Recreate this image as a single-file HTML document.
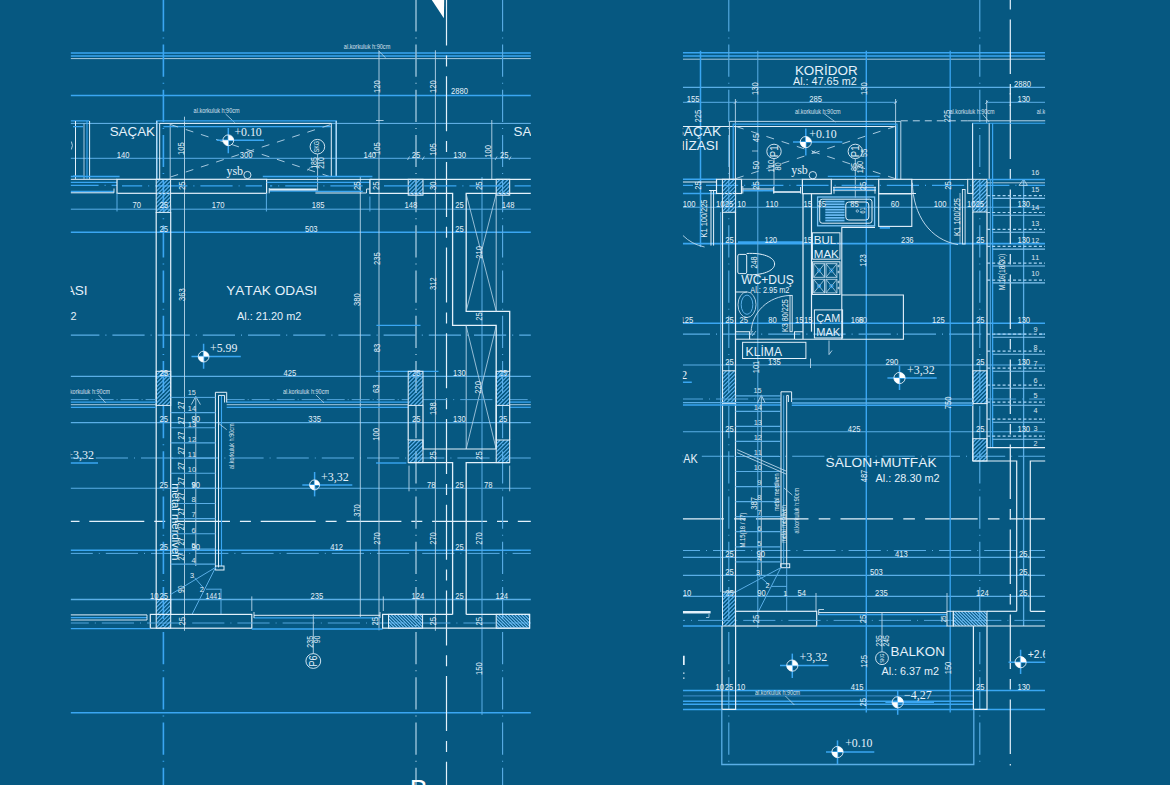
<!DOCTYPE html>
<html lang="tr"><head><meta charset="utf-8"><title>Kat Planı</title>
<style>
html,body{margin:0;padding:0;background:#065881;}
body{width:1170px;height:785px;overflow:hidden;}
svg{display:block}
text{font-kerning:none;}
.s{font-family:"Liberation Sans",Arial,sans-serif;}
.r{font-family:"Liberation Serif","Times New Roman",serif;}
</style></head><body>
<svg width="1170" height="785" viewBox="0 0 1170 785">
<rect width="1170" height="785" fill="#065881"/>
<defs>
<clipPath id="clipL"><rect x="70.6" y="0" width="460.4" height="785"/></clipPath>
<clipPath id="clipR"><rect x="682.8" y="0" width="362.4" height="785"/></clipPath>
</defs>
<g clip-path="url(#clipL)">
<line x1="70.6" y1="53.0" x2="530.8" y2="53.0" stroke="#3aa6f2" stroke-width="1.5"/>
<line x1="70.6" y1="55.9" x2="530.8" y2="55.9" stroke="#3aa6f2" stroke-width="1.5"/>
<line x1="70.6" y1="58.6" x2="530.8" y2="58.6" stroke="#b9d6ea" stroke-width="0.9"/>
<line x1="70.6" y1="95.4" x2="530.8" y2="95.4" stroke="#3aa6f2" stroke-width="1.5"/>
<line x1="70.6" y1="123.4" x2="530.8" y2="123.4" stroke="#6ab8ee" stroke-width="1"/>
<line x1="70.6" y1="158.3" x2="530.8" y2="158.3" stroke="#5aaee6" stroke-width="1"/>
<line x1="70.6" y1="209.2" x2="530.8" y2="209.2" stroke="#5aaee6" stroke-width="1"/>
<line x1="70.6" y1="232.3" x2="530.8" y2="232.3" stroke="#3aa6f2" stroke-width="1.4"/>
<line x1="70.6" y1="335.1" x2="530.8" y2="335.1" stroke="#5aaee6" stroke-width="1.2" stroke-dasharray="32.2 6 1 6" stroke-dashoffset="3.4"/>
<line x1="70.6" y1="376.4" x2="530.8" y2="376.4" stroke="#5aaee6" stroke-width="1.2"/>
<line x1="70.6" y1="422.6" x2="530.8" y2="422.6" stroke="#5aaee6" stroke-width="1.1"/>
<line x1="70.6" y1="458.0" x2="530.8" y2="458.0" stroke="#5aaee6" stroke-width="1.2" stroke-dasharray="32.2 6 1 6" stroke-dashoffset="20"/>
<line x1="70.6" y1="488.2" x2="530.8" y2="488.2" stroke="#5aaee6" stroke-width="1.1"/>
<line x1="70.6" y1="521.3" x2="530.8" y2="521.3" stroke="#e4f1fb" stroke-width="1.3" stroke-dasharray="55 9.9 11 9.8" stroke-dashoffset="67"/>
<line x1="70.6" y1="550.3" x2="530.8" y2="550.3" stroke="#3aa6f2" stroke-width="1.4"/>
<line x1="70.6" y1="553.4" x2="530.8" y2="553.4" stroke="#5aaee6" stroke-width="1" stroke-dasharray="32.2 6 1 6" stroke-dashoffset="10"/>
<line x1="70.6" y1="599.5" x2="530.8" y2="599.5" stroke="#5aaee6" stroke-width="1.3"/>
<line x1="70.6" y1="712.8" x2="530.8" y2="712.8" stroke="#3aa6f2" stroke-width="1.5"/>
</g>
<line x1="163.4" y1="0.0" x2="163.4" y2="785.0" stroke="#3aa6f2" stroke-width="1.6" stroke-dasharray="32.2 6 1 6" stroke-dashoffset="0.7"/>
<line x1="416.0" y1="0.0" x2="416.0" y2="785.0" stroke="#8ebad4" stroke-width="1.5" stroke-dasharray="32.2 6 1 6" stroke-dashoffset="0.7"/>
<line x1="502.6" y1="0.0" x2="502.6" y2="785.0" stroke="#5aaee6" stroke-width="1.1" stroke-dasharray="32.2 6 1 6" stroke-dashoffset="0.7"/>
<line x1="446.5" y1="0.0" x2="446.5" y2="785.0" stroke="#e4f1fb" stroke-width="1.2" stroke-dasharray="55 9.9 11 9.8" stroke-dashoffset="9.5"/>
<line x1="184.5" y1="116.7" x2="184.5" y2="630.8" stroke="#b9d6ea" stroke-width="0.9"/>
<line x1="360.3" y1="177.0" x2="360.3" y2="617.0" stroke="#b9d6ea" stroke-width="0.9"/>
<line x1="379.0" y1="50.8" x2="379.0" y2="630.3" stroke="#b9d6ea" stroke-width="0.9"/>
<line x1="435.4" y1="50.3" x2="435.4" y2="630.8" stroke="#b9d6ea" stroke-width="0.9"/>
<line x1="482.0" y1="177.0" x2="482.0" y2="714.9" stroke="#5aaee6" stroke-width="1"/>
<line x1="491.8" y1="120.0" x2="491.8" y2="179.5" stroke="#b9d6ea" stroke-width="0.9"/>
<polygon points="431.8,0 444.2,0 443.9,18.3" fill="#ffffff"/>
<g clip-path="url(#clipL)">
<text class="s" x="343.8" y="48.9" font-size="7.4" fill="#e4f1fb" textLength="46.5" lengthAdjust="spacingAndGlyphs" opacity="0.9">al.korkuluk h:90cm</text>
<line x1="378.5" y1="50.8" x2="385.6" y2="57.8" stroke="#b9d6ea" stroke-width="0.8"/>
<text class="s" x="193.6" y="113.0" font-size="7.4" fill="#e4f1fb" textLength="46" lengthAdjust="spacingAndGlyphs" opacity="0.9">al.korkuluk h:90cm</text>
<line x1="225.6" y1="114.0" x2="234.6" y2="122.5" stroke="#b9d6ea" stroke-width="0.8"/>
<line x1="376.0" y1="120.5" x2="383.6" y2="120.5" stroke="#b9d6ea" stroke-width="0.9"/>
<line x1="70.6" y1="120.9" x2="89.4" y2="120.9" stroke="#3aa6f2" stroke-width="1.4"/>
<line x1="75.5" y1="121.0" x2="75.5" y2="178.8" stroke="#e4f1fb" stroke-width="1"/>
<line x1="84.0" y1="123.4" x2="84.0" y2="178.8" stroke="#b9d6ea" stroke-width="0.9"/>
<line x1="87.0" y1="121.0" x2="87.0" y2="178.8" stroke="#3aa6f2" stroke-width="1.1"/>
<line x1="89.6" y1="121.0" x2="89.6" y2="178.8" stroke="#e4f1fb" stroke-width="1"/>
<line x1="73.0" y1="126.6" x2="83.0" y2="126.6" stroke="#3aa6f2" stroke-width="1.1"/>
<line x1="73.0" y1="176.0" x2="83.0" y2="176.0" stroke="#3aa6f2" stroke-width="1.1"/>
<path d="M71.3 141.5Q73.6 145.5 71.3 149.5" fill="none" stroke="#b9d6ea" stroke-width="0.9"/>
<line x1="70.6" y1="176.5" x2="119.6" y2="176.5" stroke="#3aa6f2" stroke-width="1.4"/>
<line x1="70.6" y1="179.3" x2="117.0" y2="179.3" stroke="#e4f1fb" stroke-width="1"/>
<line x1="70.6" y1="182.3" x2="117.0" y2="182.3" stroke="#3aa6f2" stroke-width="1.3"/>
<line x1="70.6" y1="185.3" x2="117.0" y2="185.3" stroke="#3aa6f2" stroke-width="1.3" stroke-dasharray="28 6 1 6" stroke-dashoffset="0"/>
<line x1="70.6" y1="191.4" x2="114.0" y2="191.4" stroke="#3aa6f2" stroke-width="1.5"/>
<line x1="70.6" y1="192.8" x2="114.0" y2="192.8" stroke="#e4f1fb" stroke-width="1"/>
<line x1="114.0" y1="188.5" x2="114.0" y2="192.8" stroke="#e4f1fb" stroke-width="0.9"/>
<path d="M156.8 179.3V120.9H336.2V177" fill="none" stroke="#3aa6f2" stroke-width="1.3"/>
<path d="M156.8 179.3V120.9" fill="none" stroke="#e4f1fb" stroke-width="1"/>
<path d="M159.7 179.3V123.4H331.3V177" fill="none" stroke="#e4f1fb" stroke-width="1"/>
<path d="M336.2 120.9V177" fill="none" stroke="#e4f1fb" stroke-width="1"/>
<line x1="170.2" y1="123.4" x2="170.2" y2="179.3" stroke="#b9d6ea" stroke-width="0.9"/>
<line x1="163.4" y1="126.6" x2="331.0" y2="126.6" stroke="#3aa6f2" stroke-width="1.2"/>
<line x1="170.5" y1="124.5" x2="331.0" y2="177.0" stroke="#b9d6ea" stroke-width="0.9" stroke-dasharray="8 8" stroke-dashoffset="0"/>
<line x1="170.5" y1="177.0" x2="331.0" y2="124.5" stroke="#b9d6ea" stroke-width="0.9" stroke-dasharray="8 8" stroke-dashoffset="0"/>
<text class="s" transform="translate(109.7,136.0) scale(0.99,1)" font-size="13.5" fill="#e4f1fb" text-anchor="start">SAÇAK</text>
<text class="s" transform="translate(513.6,136.0) scale(0.99,1)" font-size="13.5" fill="#e4f1fb" text-anchor="start">SAÇAK</text>
<line x1="216.7" y1="140.3" x2="264.0" y2="140.3" stroke="#3aa6f2" stroke-width="1.5"/>
<line x1="228.3" y1="128.0" x2="228.3" y2="153.2" stroke="#3aa6f2" stroke-width="1.5"/>
<circle cx="228.3" cy="140.3" r="5.4" fill="none" stroke="#e4f1fb" stroke-width="0.9"/>
<path d="M228.3 140.3L228.3 134.9A5.4 5.4 0 0 1 233.7 140.3Z M228.3 140.3L228.3 145.7A5.4 5.4 0 0 1 222.9 140.3Z" fill="#ffffff"/>
<text class="r" transform="translate(234.4,136.0) scale(1.0,1)" font-size="11.8" fill="#e4f1fb" text-anchor="start">+0.10</text>
<text class="r" transform="translate(226.4,175.0) scale(1.0,1)" font-size="12" fill="#e4f1fb" text-anchor="start">ysb</text>
<circle cx="247.4" cy="175.0" r="3.6" fill="none" stroke="#e4f1fb" stroke-width="0.9"/>
<circle cx="317.4" cy="146.7" r="7.3" fill="none" stroke="#e4f1fb" stroke-width="0.9"/>
<line x1="317.6" y1="154.0" x2="317.6" y2="190.8" stroke="#b9d6ea" stroke-width="0.9"/>
<text class="s" transform="translate(319.3,146.7) rotate(-90) scale(0.85,1)" font-size="6.3" fill="#e4f1fb" text-anchor="middle">SKG</text>
<text class="s" transform="translate(317.2,163.0) rotate(-90) scale(0.78,1)" font-size="9" fill="#e4f1fb" text-anchor="middle">185</text>
<text class="s" transform="translate(323.8,163.0) rotate(-90) scale(0.78,1)" font-size="9" fill="#e4f1fb" text-anchor="middle">210</text>
<line x1="307.5" y1="170.5" x2="310.5" y2="167.0" stroke="#b9d6ea" stroke-width="0.8"/>
<rect x="117.0" y="179.3" width="149.6" height="14.0" rx="0" fill="none" stroke="#e4f1fb" stroke-width="1.2"/>
<line x1="122.0" y1="185.8" x2="262.0" y2="185.8" stroke="#3aa6f2" stroke-width="1.3" stroke-dasharray="32.2 6 1 6" stroke-dashoffset="12"/>
<clipPath id="h77"><rect x="156.2" y="179.3" width="14.4" height="33.1"/></clipPath>
<g clip-path="url(#h77)">
<path d="M123.1 212.4L156.2 179.3M127.1 212.4L160.2 179.3M131.1 212.4L164.2 179.3M135.1 212.4L168.2 179.3M139.1 212.4L172.2 179.3M143.1 212.4L176.2 179.3M147.1 212.4L180.2 179.3M151.1 212.4L184.2 179.3M155.1 212.4L188.2 179.3M159.1 212.4L192.2 179.3M163.1 212.4L196.2 179.3M167.1 212.4L200.2 179.3M171.1 212.4L204.2 179.3M175.1 212.4L208.2 179.3M179.1 212.4L212.2 179.3M183.1 212.4L216.2 179.3M187.1 212.4L220.2 179.3M191.1 212.4L224.2 179.3M195.1 212.4L228.2 179.3M199.1 212.4L232.2 179.3M203.1 212.4L236.2 179.3" stroke="#5cb4f2" stroke-width="1.15" fill="none"/>
</g>
<rect x="156.2" y="179.3" width="14.4" height="33.1" rx="0" fill="none" stroke="#e4f1fb" stroke-width="1"/>
<line x1="117.0" y1="193.3" x2="117.0" y2="211.5" stroke="#5aaee6" stroke-width="1"/>
<line x1="266.4" y1="193.3" x2="266.4" y2="211.5" stroke="#5aaee6" stroke-width="1"/>
<line x1="369.9" y1="196.5" x2="369.9" y2="211.5" stroke="#5aaee6" stroke-width="1"/>
<line x1="262.8" y1="176.5" x2="372.4" y2="176.5" stroke="#3aa6f2" stroke-width="1.3"/>
<line x1="266.6" y1="179.4" x2="372.0" y2="179.4" stroke="#e4f1fb" stroke-width="1"/>
<line x1="266.6" y1="182.4" x2="370.0" y2="182.4" stroke="#3aa6f2" stroke-width="1.3"/>
<line x1="270.0" y1="185.8" x2="368.0" y2="185.8" stroke="#3aa6f2" stroke-width="1.2" stroke-dasharray="32.2 6 1 6" stroke-dashoffset="30"/>
<line x1="269.2" y1="189.7" x2="316.7" y2="189.7" stroke="#e4f1fb" stroke-width="2.2"/>
<line x1="269.2" y1="191.2" x2="316.7" y2="191.2" stroke="#3aa6f2" stroke-width="1.0"/>
<line x1="315.4" y1="191.4" x2="362.8" y2="191.4" stroke="#3aa6f2" stroke-width="1.2"/>
<line x1="315.4" y1="193.0" x2="362.8" y2="193.0" stroke="#e4f1fb" stroke-width="1.2"/>
<line x1="269.2" y1="188.0" x2="269.2" y2="193.3" stroke="#e4f1fb" stroke-width="0.9"/>
<path d="M362.8 193H366.5V189H369.7" fill="none" stroke="#e4f1fb" stroke-width="0.9"/>
<path d="M369.9 179.3V193.3H452.6V325.4H496.2V449" fill="none" stroke="#e4f1fb" stroke-width="1.3"/>
<line x1="369.7" y1="179.3" x2="530.8" y2="179.3" stroke="#e4f1fb" stroke-width="1.3"/>
<path d="M530.8 193.3H466.2V311.3H509.7V371.3" fill="none" stroke="#e4f1fb" stroke-width="1.3"/>
<clipPath id="h98"><rect x="408.2" y="179.3" width="14.8" height="15.9"/></clipPath>
<g clip-path="url(#h98)">
<path d="M392.3 195.2L408.2 179.3M396.3 195.2L412.2 179.3M400.3 195.2L416.2 179.3M404.3 195.2L420.2 179.3M408.3 195.2L424.2 179.3M412.3 195.2L428.2 179.3M416.3 195.2L432.2 179.3M420.3 195.2L436.2 179.3M424.3 195.2L440.2 179.3M428.3 195.2L444.2 179.3M432.3 195.2L448.2 179.3M436.3 195.2L452.2 179.3" stroke="#5cb4f2" stroke-width="1.15" fill="none"/>
</g>
<rect x="408.2" y="179.3" width="14.8" height="15.9" rx="0" fill="none" stroke="#e4f1fb" stroke-width="1"/>
<clipPath id="h103"><rect x="496.2" y="179.3" width="13.5" height="15.9"/></clipPath>
<g clip-path="url(#h103)">
<path d="M480.3 195.2L496.2 179.3M484.3 195.2L500.2 179.3M488.3 195.2L504.2 179.3M492.3 195.2L508.2 179.3M496.3 195.2L512.2 179.3M500.3 195.2L516.2 179.3M504.3 195.2L520.2 179.3M508.3 195.2L524.2 179.3M512.3 195.2L528.2 179.3M516.3 195.2L532.2 179.3M520.3 195.2L536.2 179.3M524.3 195.2L540.2 179.3" stroke="#5cb4f2" stroke-width="1.15" fill="none"/>
</g>
<rect x="496.2" y="179.3" width="13.5" height="15.9" rx="0" fill="none" stroke="#e4f1fb" stroke-width="1"/>
<line x1="384.0" y1="185.8" x2="530.8" y2="185.8" stroke="#3aa6f2" stroke-width="1.2" stroke-dasharray="32.2 6 1 6" stroke-dashoffset="5"/>
<line x1="496.2" y1="193.3" x2="496.2" y2="311.3" stroke="#b9d6ea" stroke-width="0.9"/>
<line x1="466.2" y1="194.0" x2="496.2" y2="311.0" stroke="#b9d6ea" stroke-width="0.8"/>
<line x1="496.2" y1="194.0" x2="466.2" y2="311.0" stroke="#b9d6ea" stroke-width="0.8"/>
<line x1="466.2" y1="325.4" x2="466.2" y2="449.0" stroke="#b9d6ea" stroke-width="0.9"/>
<line x1="466.2" y1="326.0" x2="496.2" y2="449.0" stroke="#b9d6ea" stroke-width="0.8"/>
<line x1="496.2" y1="326.0" x2="466.2" y2="449.0" stroke="#b9d6ea" stroke-width="0.8"/>
<line x1="156.2" y1="212.0" x2="156.2" y2="600.0" stroke="#e4f1fb" stroke-width="1.2"/>
<line x1="170.7" y1="212.0" x2="170.7" y2="614.4" stroke="#e4f1fb" stroke-width="1.2"/>
<clipPath id="h117"><rect x="156.2" y="371.3" width="14.5" height="34.1"/></clipPath>
<g clip-path="url(#h117)">
<path d="M122.1 405.4L156.2 371.3M126.1 405.4L160.2 371.3M130.1 405.4L164.2 371.3M134.1 405.4L168.2 371.3M138.1 405.4L172.2 371.3M142.1 405.4L176.2 371.3M146.1 405.4L180.2 371.3M150.1 405.4L184.2 371.3M154.1 405.4L188.2 371.3M158.1 405.4L192.2 371.3M162.1 405.4L196.2 371.3M166.1 405.4L200.2 371.3M170.1 405.4L204.2 371.3M174.1 405.4L208.2 371.3M178.1 405.4L212.2 371.3M182.1 405.4L216.2 371.3M186.1 405.4L220.2 371.3M190.1 405.4L224.2 371.3M194.1 405.4L228.2 371.3M198.1 405.4L232.2 371.3M202.1 405.4L236.2 371.3" stroke="#5cb4f2" stroke-width="1.15" fill="none"/>
</g>
<rect x="156.2" y="371.3" width="14.5" height="34.1" rx="0" fill="none" stroke="#e4f1fb" stroke-width="1"/>
<clipPath id="h122"><rect x="156.2" y="599.5" width="14.5" height="28.7"/></clipPath>
<g clip-path="url(#h122)">
<path d="M127.5 628.2L156.2 599.5M131.5 628.2L160.2 599.5M135.5 628.2L164.2 599.5M139.5 628.2L168.2 599.5M143.5 628.2L172.2 599.5M147.5 628.2L176.2 599.5M151.5 628.2L180.2 599.5M155.5 628.2L184.2 599.5M159.5 628.2L188.2 599.5M163.5 628.2L192.2 599.5M167.5 628.2L196.2 599.5M171.5 628.2L200.2 599.5M175.5 628.2L204.2 599.5M179.5 628.2L208.2 599.5M183.5 628.2L212.2 599.5M187.5 628.2L216.2 599.5M191.5 628.2L220.2 599.5M195.5 628.2L224.2 599.5" stroke="#5cb4f2" stroke-width="1.15" fill="none"/>
</g>
<rect x="156.2" y="599.5" width="14.5" height="28.7" rx="0" fill="none" stroke="#e4f1fb" stroke-width="1"/>
<text class="s" transform="translate(116.7,158.2) scale(0.77,1)" font-size="9.9" fill="#e4f1fb" text-anchor="start">140</text>
<text class="s" transform="translate(239.7,158.2) scale(0.77,1)" font-size="9.9" fill="#e4f1fb" text-anchor="start">300</text>
<text class="s" transform="translate(363.4,158.2) scale(0.77,1)" font-size="9.9" fill="#e4f1fb" text-anchor="start">140</text>
<text class="s" transform="translate(411.8,158.2) scale(0.77,1)" font-size="9.9" fill="#e4f1fb" text-anchor="start">25</text>
<text class="s" transform="translate(453.3,158.2) scale(0.77,1)" font-size="9.9" fill="#e4f1fb" text-anchor="start">130</text>
<text class="s" transform="translate(499.9,158.2) scale(0.77,1)" font-size="9.9" fill="#e4f1fb" text-anchor="start">25</text>
<line x1="407.5" y1="160.0" x2="409.5" y2="156.5" stroke="#b9d6ea" stroke-width="0.8"/>
<line x1="422.3" y1="160.0" x2="424.3" y2="156.5" stroke="#b9d6ea" stroke-width="0.8"/>
<line x1="495.0" y1="160.0" x2="497.0" y2="156.5" stroke="#b9d6ea" stroke-width="0.8"/>
<line x1="509.0" y1="160.0" x2="511.0" y2="156.5" stroke="#b9d6ea" stroke-width="0.8"/>
<text class="s" transform="translate(184.4,148.7) rotate(-90) scale(0.77,1)" font-size="9.9" fill="#e4f1fb" text-anchor="middle">105</text>
<text class="s" transform="translate(379.6,148.7) rotate(-90) scale(0.77,1)" font-size="9.9" fill="#e4f1fb" text-anchor="middle">105</text>
<text class="s" transform="translate(435.9,149.5) rotate(-90) scale(0.77,1)" font-size="9.9" fill="#e4f1fb" text-anchor="middle">105</text>
<text class="s" transform="translate(491.2,151.3) rotate(-90) scale(0.77,1)" font-size="9.9" fill="#e4f1fb" text-anchor="middle">100</text>
<text class="s" transform="translate(379.6,86.7) rotate(-90) scale(0.77,1)" font-size="9.9" fill="#e4f1fb" text-anchor="middle">120</text>
<text class="s" transform="translate(435.9,86.7) rotate(-90) scale(0.77,1)" font-size="9.9" fill="#e4f1fb" text-anchor="middle">120</text>
<text class="s" transform="translate(451.0,94.3) scale(0.77,1)" font-size="9.9" fill="#e4f1fb" text-anchor="start">2880</text>
<text class="s" transform="translate(132.6,208.4) scale(0.77,1)" font-size="9.9" fill="#e4f1fb" text-anchor="start">70</text>
<text class="s" transform="translate(159.6,208.4) scale(0.77,1)" font-size="9.9" fill="#e4f1fb" text-anchor="start">25</text>
<text class="s" transform="translate(211.8,208.4) scale(0.77,1)" font-size="9.9" fill="#e4f1fb" text-anchor="start">170</text>
<text class="s" transform="translate(311.8,208.4) scale(0.77,1)" font-size="9.9" fill="#e4f1fb" text-anchor="start">185</text>
<text class="s" transform="translate(404.6,208.4) scale(0.77,1)" font-size="9.9" fill="#e4f1fb" text-anchor="start">148</text>
<text class="s" transform="translate(455.2,208.4) scale(0.77,1)" font-size="9.9" fill="#e4f1fb" text-anchor="start">25</text>
<text class="s" transform="translate(501.8,208.4) scale(0.77,1)" font-size="9.9" fill="#e4f1fb" text-anchor="start">148</text>
<text class="s" transform="translate(159.6,231.6) scale(0.77,1)" font-size="9.9" fill="#e4f1fb" text-anchor="start">25</text>
<text class="s" transform="translate(304.9,231.6) scale(0.77,1)" font-size="9.9" fill="#e4f1fb" text-anchor="start">503</text>
<text class="s" transform="translate(455.2,231.6) scale(0.77,1)" font-size="9.9" fill="#e4f1fb" text-anchor="start">25</text>
<line x1="156.4" y1="205.5" x2="156.4" y2="211.8" stroke="#b9d6ea" stroke-width="0.9"/>
<line x1="170.6" y1="205.5" x2="170.6" y2="211.8" stroke="#b9d6ea" stroke-width="0.9"/>
<text class="s" transform="translate(184.9,185.8) rotate(-90) scale(0.77,1)" font-size="9.9" fill="#e4f1fb" text-anchor="middle">25</text>
<text class="s" transform="translate(360.0,185.8) rotate(-90) scale(0.77,1)" font-size="9.9" fill="#e4f1fb" text-anchor="middle">25</text>
<text class="s" transform="translate(379.2,185.8) rotate(-90) scale(0.77,1)" font-size="9.9" fill="#e4f1fb" text-anchor="middle">25</text>
<text class="s" transform="translate(435.6,185.8) rotate(-90) scale(0.77,1)" font-size="9.9" fill="#e4f1fb" text-anchor="middle">30</text>
<text class="s" transform="translate(482.3,185.8) rotate(-90) scale(0.77,1)" font-size="9.9" fill="#e4f1fb" text-anchor="middle">25</text>
<text class="s" transform="translate(184.9,294.6) rotate(-90) scale(0.77,1)" font-size="9.9" fill="#e4f1fb" text-anchor="middle">363</text>
<text class="s" transform="translate(360.0,299.7) rotate(-90) scale(0.77,1)" font-size="9.9" fill="#e4f1fb" text-anchor="middle">380</text>
<text class="s" transform="translate(379.6,258.7) rotate(-90) scale(0.77,1)" font-size="9.9" fill="#e4f1fb" text-anchor="middle">235</text>
<text class="s" transform="translate(435.6,283.6) rotate(-90) scale(0.77,1)" font-size="9.9" fill="#e4f1fb" text-anchor="middle">312</text>
<text class="s" transform="translate(482.3,252.3) rotate(-90) scale(0.77,1)" font-size="9.9" fill="#e4f1fb" text-anchor="middle">210</text>
<text class="s" transform="translate(482.3,316.4) rotate(-90) scale(0.77,1)" font-size="9.9" fill="#e4f1fb" text-anchor="middle">25</text>
<text class="s" transform="translate(379.6,348.0) rotate(-90) scale(0.77,1)" font-size="9.9" fill="#e4f1fb" text-anchor="middle">83</text>
<line x1="376.4" y1="325.4" x2="420.5" y2="325.4" stroke="#3aa6f2" stroke-width="1.4"/>
<text class="s" transform="translate(226.2,295.4) scale(1.011,1)" font-size="13.5" fill="#e4f1fb" text-anchor="start">YATAK ODASI</text>
<text class="s" transform="translate(237.0,319.5) scale(1.004,1)" font-size="10.9" fill="#e4f1fb" text-anchor="start">Al.: 21.20 m2</text>
<text class="s" transform="translate(-3.3,295.4) scale(1.011,1)" font-size="13.5" fill="#e4f1fb" text-anchor="start">YATAK ODASI</text>
<text class="s" transform="translate(12.2,319.5) scale(1.004,1)" font-size="10.9" fill="#e4f1fb" text-anchor="start">Al.: 21.20 m2</text>
<line x1="191.5" y1="356.6" x2="240.8" y2="356.6" stroke="#3aa6f2" stroke-width="1.5"/>
<line x1="203.6" y1="343.8" x2="203.6" y2="368.7" stroke="#3aa6f2" stroke-width="1.5"/>
<circle cx="203.6" cy="356.6" r="5.4" fill="none" stroke="#e4f1fb" stroke-width="0.9"/>
<path d="M203.6 356.6L203.6 351.2A5.4 5.4 0 0 1 209.0 356.6Z M203.6 356.6L203.6 362.0A5.4 5.4 0 0 1 198.2 356.6Z" fill="#ffffff"/>
<text class="r" transform="translate(210.0,352.3) scale(1.0,1)" font-size="11.8" fill="#e4f1fb" text-anchor="start">+5.99</text>
<text class="s" transform="translate(159.6,376.0) scale(0.77,1)" font-size="9.9" fill="#e4f1fb" text-anchor="start">25</text>
<text class="s" transform="translate(283.6,376.0) scale(0.77,1)" font-size="9.9" fill="#e4f1fb" text-anchor="start">425</text>
<text class="s" transform="translate(412.0,376.0) scale(0.77,1)" font-size="9.9" fill="#e4f1fb" text-anchor="start">25</text>
<text class="s" transform="translate(453.0,376.0) scale(0.77,1)" font-size="9.9" fill="#e4f1fb" text-anchor="start">130</text>
<text class="s" transform="translate(498.7,376.0) scale(0.77,1)" font-size="9.9" fill="#e4f1fb" text-anchor="start">25</text>
<line x1="376.0" y1="371.3" x2="438.5" y2="371.3" stroke="#3aa6f2" stroke-width="1.3"/>
<line x1="70.6" y1="399.6" x2="156.2" y2="399.6" stroke="#5aaee6" stroke-width="0.9" stroke-dasharray="18 3 1 3"/>
<line x1="70.6" y1="402.1" x2="156.2" y2="402.1" stroke="#3aa6f2" stroke-width="1.3"/>
<line x1="70.6" y1="404.7" x2="156.2" y2="404.7" stroke="#b9d6ea" stroke-width="0.9"/>
<line x1="70.6" y1="407.3" x2="156.2" y2="407.3" stroke="#3aa6f2" stroke-width="1.2"/>
<line x1="226.7" y1="399.6" x2="408.2" y2="399.6" stroke="#5aaee6" stroke-width="0.9" stroke-dasharray="18 3 1 3"/>
<line x1="226.7" y1="402.1" x2="408.2" y2="402.1" stroke="#3aa6f2" stroke-width="1.3"/>
<line x1="226.7" y1="404.7" x2="408.2" y2="404.7" stroke="#b9d6ea" stroke-width="0.9"/>
<line x1="226.7" y1="407.3" x2="408.2" y2="407.3" stroke="#3aa6f2" stroke-width="1.2"/>
<line x1="509.7" y1="399.6" x2="530.8" y2="399.6" stroke="#5aaee6" stroke-width="0.9" stroke-dasharray="18 3 1 3"/>
<line x1="509.7" y1="402.1" x2="530.8" y2="402.1" stroke="#3aa6f2" stroke-width="1.3"/>
<line x1="509.7" y1="404.7" x2="530.8" y2="404.7" stroke="#b9d6ea" stroke-width="0.9"/>
<line x1="509.7" y1="407.3" x2="530.8" y2="407.3" stroke="#3aa6f2" stroke-width="1.2"/>
<line x1="423.0" y1="399.6" x2="496.2" y2="399.6" stroke="#5aaee6" stroke-width="0.9" stroke-dasharray="32.2 6 1 6" stroke-dashoffset="8"/>
<text class="s" x="64.0" y="394.2" font-size="7.4" fill="#e4f1fb" textLength="46" lengthAdjust="spacingAndGlyphs" opacity="0.9">al.korkuluk h:90cm</text>
<line x1="98.5" y1="395.0" x2="105.6" y2="402.8" stroke="#b9d6ea" stroke-width="0.8"/>
<text class="s" x="283.0" y="394.2" font-size="7.4" fill="#e4f1fb" textLength="46" lengthAdjust="spacingAndGlyphs" opacity="0.9">al.korkuluk h:90cm</text>
<line x1="316.0" y1="395.0" x2="324.0" y2="402.8" stroke="#b9d6ea" stroke-width="0.8"/>
<line x1="195.8" y1="397.0" x2="195.8" y2="566.0" stroke="#b9d6ea" stroke-width="0.9"/>
<path d="M191.3 404.6L195.8 396.4L200.4 404.6" fill="none" stroke="#b9d6ea" stroke-width="0.9"/>
<path d="M215.4 567.4V392.3H226.7V402.5" fill="none" stroke="#e4f1fb" stroke-width="1"/>
<path d="M218.5 567.4V395.4H224.6V402.5" fill="none" stroke="#e4f1fb" stroke-width="1"/>
<line x1="221.5" y1="396.0" x2="221.5" y2="566.0" stroke="#3aa6f2" stroke-width="1.1"/>
<line x1="170.7" y1="397.4" x2="215.4" y2="397.4" stroke="#5aaee6" stroke-width="1"/>
<line x1="170.7" y1="412.6" x2="215.4" y2="412.6" stroke="#5aaee6" stroke-width="1.1"/>
<line x1="170.7" y1="427.8" x2="215.4" y2="427.8" stroke="#5aaee6" stroke-width="1.1"/>
<line x1="170.7" y1="442.9" x2="215.4" y2="442.9" stroke="#5aaee6" stroke-width="1.1"/>
<line x1="170.7" y1="458.1" x2="215.4" y2="458.1" stroke="#5aaee6" stroke-width="1.1"/>
<line x1="170.7" y1="473.2" x2="215.4" y2="473.2" stroke="#5aaee6" stroke-width="1.1"/>
<line x1="170.7" y1="488.4" x2="215.4" y2="488.4" stroke="#5aaee6" stroke-width="1.1"/>
<line x1="170.7" y1="503.5" x2="215.4" y2="503.5" stroke="#5aaee6" stroke-width="1.1"/>
<line x1="170.7" y1="518.6" x2="215.4" y2="518.6" stroke="#5aaee6" stroke-width="1.1"/>
<line x1="170.7" y1="533.8" x2="215.4" y2="533.8" stroke="#5aaee6" stroke-width="1.1"/>
<line x1="170.7" y1="549.0" x2="215.4" y2="549.0" stroke="#5aaee6" stroke-width="1.1"/>
<line x1="170.7" y1="564.1" x2="215.4" y2="564.1" stroke="#5aaee6" stroke-width="1.1"/>
<text class="s" transform="translate(187.7,394.9) scale(0.92,1)" font-size="8" fill="#e4f1fb" text-anchor="start" opacity="0.9">15</text>
<text class="s" transform="translate(187.8,411.4) scale(0.92,1)" font-size="8" fill="#e4f1fb" text-anchor="start" opacity="0.9">14</text>
<text class="s" transform="translate(187.8,426.6) scale(0.92,1)" font-size="8" fill="#e4f1fb" text-anchor="start" opacity="0.9">13</text>
<text class="s" transform="translate(187.8,441.7) scale(0.92,1)" font-size="8" fill="#e4f1fb" text-anchor="start" opacity="0.9">12</text>
<text class="s" transform="translate(187.8,456.9) scale(0.92,1)" font-size="8" fill="#e4f1fb" text-anchor="start" opacity="0.9">11</text>
<text class="s" transform="translate(187.8,472.0) scale(0.92,1)" font-size="8" fill="#e4f1fb" text-anchor="start" opacity="0.9">10</text>
<text class="s" transform="translate(191.6,487.2) scale(0.92,1)" font-size="8" fill="#e4f1fb" text-anchor="start" opacity="0.9">9</text>
<text class="s" transform="translate(191.6,502.3) scale(0.92,1)" font-size="8" fill="#e4f1fb" text-anchor="start" opacity="0.9">8</text>
<text class="s" transform="translate(191.6,517.4) scale(0.92,1)" font-size="8" fill="#e4f1fb" text-anchor="start" opacity="0.9">7</text>
<text class="s" transform="translate(191.6,532.6) scale(0.92,1)" font-size="8" fill="#e4f1fb" text-anchor="start" opacity="0.9">6</text>
<text class="s" transform="translate(191.6,547.8) scale(0.92,1)" font-size="8" fill="#e4f1fb" text-anchor="start" opacity="0.9">5</text>
<text class="s" transform="translate(191.6,562.9) scale(0.92,1)" font-size="8" fill="#e4f1fb" text-anchor="start" opacity="0.9">4</text>
<text class="s" transform="translate(183.5,405.3) rotate(-90) scale(0.8,1)" font-size="8.5" fill="#e4f1fb" text-anchor="middle">27</text>
<text class="s" transform="translate(183.5,420.4) rotate(-90) scale(0.8,1)" font-size="8.5" fill="#e4f1fb" text-anchor="middle">27</text>
<text class="s" transform="translate(183.5,435.6) rotate(-90) scale(0.8,1)" font-size="8.5" fill="#e4f1fb" text-anchor="middle">27</text>
<text class="s" transform="translate(183.5,450.8) rotate(-90) scale(0.8,1)" font-size="8.5" fill="#e4f1fb" text-anchor="middle">27</text>
<text class="s" transform="translate(183.5,465.9) rotate(-90) scale(0.8,1)" font-size="8.5" fill="#e4f1fb" text-anchor="middle">27</text>
<text class="s" transform="translate(183.5,481.1) rotate(-90) scale(0.8,1)" font-size="8.5" fill="#e4f1fb" text-anchor="middle">27</text>
<text class="s" transform="translate(183.5,496.2) rotate(-90) scale(0.8,1)" font-size="8.5" fill="#e4f1fb" text-anchor="middle">27</text>
<text class="s" transform="translate(183.5,511.4) rotate(-90) scale(0.8,1)" font-size="8.5" fill="#e4f1fb" text-anchor="middle">27</text>
<text class="s" transform="translate(183.5,526.5) rotate(-90) scale(0.8,1)" font-size="8.5" fill="#e4f1fb" text-anchor="middle">27</text>
<text class="s" transform="translate(183.5,541.6) rotate(-90) scale(0.8,1)" font-size="8.5" fill="#e4f1fb" text-anchor="middle">27</text>
<text class="s" transform="translate(183.5,556.8) rotate(-90) scale(0.8,1)" font-size="8.5" fill="#e4f1fb" text-anchor="middle">27</text>
<text class="s" transform="translate(171.7,521.8) rotate(90) scale(1.0,1)" font-size="11.3" fill="#e4f1fb" text-anchor="middle">metal merdiven</text>
<rect x="215.6" y="566.0" width="8.4" height="4.0" rx="0" fill="none" stroke="#e4f1fb" stroke-width="1"/>
<line x1="215.6" y1="567.4" x2="170.7" y2="594.4" stroke="#5aaee6" stroke-width="1"/>
<line x1="215.6" y1="567.4" x2="192.0" y2="614.4" stroke="#5aaee6" stroke-width="1"/>
<line x1="194.6" y1="577.7" x2="203.6" y2="588.0" stroke="#5aaee6" stroke-width="1"/>
<line x1="206.0" y1="589.2" x2="221.5" y2="589.2" stroke="#5aaee6" stroke-width="1"/>
<line x1="221.0" y1="589.2" x2="221.0" y2="614.4" stroke="#5aaee6" stroke-width="1"/>
<text class="s" transform="translate(190.0,577.7) scale(0.92,1)" font-size="8" fill="#e4f1fb" text-anchor="start">3</text>
<text class="s" transform="translate(199.7,591.8) scale(0.92,1)" font-size="8" fill="#e4f1fb" text-anchor="start">2</text>
<text class="s" transform="translate(205.6,599.3) scale(0.8,1)" font-size="8.5" fill="#e4f1fb" text-anchor="start">144</text>
<text class="s" transform="translate(217.6,599.3) scale(0.8,1)" font-size="8.5" fill="#e4f1fb" text-anchor="start">1</text>
<text class="s" transform="translate(183.5,589.2) rotate(-90) scale(0.8,1)" font-size="8.5" fill="#e4f1fb" text-anchor="middle">90</text>
<text class="s" transform="translate(159.6,422.3) scale(0.77,1)" font-size="9.9" fill="#e4f1fb" text-anchor="start">25</text>
<text class="s" transform="translate(191.5,422.3) scale(0.77,1)" font-size="9.9" fill="#e4f1fb" text-anchor="start">90</text>
<text class="s" transform="translate(308.2,422.3) scale(0.77,1)" font-size="9.9" fill="#e4f1fb" text-anchor="start">335</text>
<text class="s" transform="translate(412.0,422.3) scale(0.77,1)" font-size="9.9" fill="#e4f1fb" text-anchor="start">25</text>
<text class="s" transform="translate(453.0,422.3) scale(0.77,1)" font-size="9.9" fill="#e4f1fb" text-anchor="start">130</text>
<text class="s" transform="translate(498.7,422.3) scale(0.77,1)" font-size="9.9" fill="#e4f1fb" text-anchor="start">25</text>
<text class="s" transform="translate(159.6,488.0) scale(0.77,1)" font-size="9.9" fill="#e4f1fb" text-anchor="start">25</text>
<text class="s" transform="translate(191.5,488.0) scale(0.77,1)" font-size="9.9" fill="#e4f1fb" text-anchor="start">90</text>
<text class="s" transform="translate(427.0,488.0) scale(0.77,1)" font-size="9.9" fill="#e4f1fb" text-anchor="start">78</text>
<text class="s" transform="translate(455.2,488.0) scale(0.77,1)" font-size="9.9" fill="#e4f1fb" text-anchor="start">25</text>
<text class="s" transform="translate(484.0,488.0) scale(0.77,1)" font-size="9.9" fill="#e4f1fb" text-anchor="start">78</text>
<line x1="409.0" y1="465.6" x2="409.0" y2="491.3" stroke="#b9d6ea" stroke-width="0.9"/>
<line x1="509.7" y1="465.6" x2="509.7" y2="491.3" stroke="#b9d6ea" stroke-width="0.9"/>
<line x1="217.7" y1="422.6" x2="226.7" y2="429.7" stroke="#b9d6ea" stroke-width="0.8"/>
<text class="s" transform="translate(233.5,469.0) rotate(-90)" font-size="7.4" fill="#e4f1fb" textLength="45.5" lengthAdjust="spacingAndGlyphs" text-anchor="start" opacity="0.9">al.korkuluk h:90cm</text>
<text class="r" transform="translate(66.2,459.2) scale(1.0,1)" font-size="12" fill="#e4f1fb" text-anchor="start">+3,32</text>
<line x1="70.6" y1="463.0" x2="98.0" y2="463.0" stroke="#3aa6f2" stroke-width="1.4"/>
<line x1="302.3" y1="484.9" x2="352.3" y2="484.9" stroke="#3aa6f2" stroke-width="1.5"/>
<line x1="314.6" y1="472.0" x2="314.6" y2="496.4" stroke="#3aa6f2" stroke-width="1.5"/>
<circle cx="314.6" cy="484.9" r="5" fill="none" stroke="#e4f1fb" stroke-width="0.9"/>
<path d="M314.6 484.9L314.6 479.9A5 5 0 0 1 319.6 484.9Z M314.6 484.9L314.6 489.9A5 5 0 0 1 309.6 484.9Z" fill="#ffffff"/>
<text class="r" transform="translate(321.0,481.0) scale(1.0,1)" font-size="12" fill="#e4f1fb" text-anchor="start">+3,32</text>
<text class="s" transform="translate(379.0,388.7) rotate(-90) scale(0.77,1)" font-size="9.9" fill="#e4f1fb" text-anchor="middle">63</text>
<text class="s" transform="translate(379.0,434.4) rotate(-90) scale(0.77,1)" font-size="9.9" fill="#e4f1fb" text-anchor="middle">100</text>
<text class="s" transform="translate(435.6,408.7) rotate(-90) scale(0.77,1)" font-size="9.9" fill="#e4f1fb" text-anchor="middle">138</text>
<text class="s" transform="translate(481.3,387.4) rotate(-90) scale(0.77,1)" font-size="9.9" fill="#e4f1fb" text-anchor="middle">220</text>
<text class="s" transform="translate(435.6,455.4) rotate(-90) scale(0.77,1)" font-size="9.9" fill="#e4f1fb" text-anchor="middle">25</text>
<text class="s" transform="translate(482.3,455.4) rotate(-90) scale(0.77,1)" font-size="9.9" fill="#e4f1fb" text-anchor="middle">25</text>
<text class="s" transform="translate(360.0,510.5) rotate(-90) scale(0.77,1)" font-size="9.9" fill="#e4f1fb" text-anchor="middle">370</text>
<line x1="376.0" y1="463.0" x2="406.4" y2="463.0" stroke="#3aa6f2" stroke-width="1.4"/>
<clipPath id="h283"><rect x="408.2" y="371.3" width="14.8" height="34.1"/></clipPath>
<g clip-path="url(#h283)">
<path d="M374.1 405.4L408.2 371.3M378.1 405.4L412.2 371.3M382.1 405.4L416.2 371.3M386.1 405.4L420.2 371.3M390.1 405.4L424.2 371.3M394.1 405.4L428.2 371.3M398.1 405.4L432.2 371.3M402.1 405.4L436.2 371.3M406.1 405.4L440.2 371.3M410.1 405.4L444.2 371.3M414.1 405.4L448.2 371.3M418.1 405.4L452.2 371.3M422.1 405.4L456.2 371.3M426.1 405.4L460.2 371.3M430.1 405.4L464.2 371.3M434.1 405.4L468.2 371.3M438.1 405.4L472.2 371.3M442.1 405.4L476.2 371.3M446.1 405.4L480.2 371.3M450.1 405.4L484.2 371.3M454.1 405.4L488.2 371.3" stroke="#5cb4f2" stroke-width="1.15" fill="none"/>
</g>
<rect x="408.2" y="371.3" width="14.8" height="34.1" rx="0" fill="none" stroke="#e4f1fb" stroke-width="1"/>
<clipPath id="h288"><rect x="408.2" y="440.0" width="14.8" height="22.6"/></clipPath>
<g clip-path="url(#h288)">
<path d="M385.6 462.6L408.2 440.0M389.6 462.6L412.2 440.0M393.6 462.6L416.2 440.0M397.6 462.6L420.2 440.0M401.6 462.6L424.2 440.0M405.6 462.6L428.2 440.0M409.6 462.6L432.2 440.0M413.6 462.6L436.2 440.0M417.6 462.6L440.2 440.0M421.6 462.6L444.2 440.0M425.6 462.6L448.2 440.0M429.6 462.6L452.2 440.0M433.6 462.6L456.2 440.0M437.6 462.6L460.2 440.0M441.6 462.6L464.2 440.0M445.6 462.6L468.2 440.0" stroke="#5cb4f2" stroke-width="1.15" fill="none"/>
</g>
<rect x="408.2" y="440.0" width="14.8" height="22.6" rx="0" fill="none" stroke="#e4f1fb" stroke-width="1"/>
<clipPath id="h293"><rect x="496.2" y="371.3" width="13.5" height="34.1"/></clipPath>
<g clip-path="url(#h293)">
<path d="M462.1 405.4L496.2 371.3M466.1 405.4L500.2 371.3M470.1 405.4L504.2 371.3M474.1 405.4L508.2 371.3M478.1 405.4L512.2 371.3M482.1 405.4L516.2 371.3M486.1 405.4L520.2 371.3M490.1 405.4L524.2 371.3M494.1 405.4L528.2 371.3M498.1 405.4L532.2 371.3M502.1 405.4L536.2 371.3M506.1 405.4L540.2 371.3M510.1 405.4L544.2 371.3M514.1 405.4L548.2 371.3M518.1 405.4L552.2 371.3M522.1 405.4L556.2 371.3M526.1 405.4L560.2 371.3M530.1 405.4L564.2 371.3M534.1 405.4L568.2 371.3M538.1 405.4L572.2 371.3M542.1 405.4L576.2 371.3" stroke="#5cb4f2" stroke-width="1.15" fill="none"/>
</g>
<rect x="496.2" y="371.3" width="13.5" height="34.1" rx="0" fill="none" stroke="#e4f1fb" stroke-width="1"/>
<clipPath id="h298"><rect x="496.2" y="440.0" width="13.5" height="22.6"/></clipPath>
<g clip-path="url(#h298)">
<path d="M473.6 462.6L496.2 440.0M477.6 462.6L500.2 440.0M481.6 462.6L504.2 440.0M485.6 462.6L508.2 440.0M489.6 462.6L512.2 440.0M493.6 462.6L516.2 440.0M497.6 462.6L520.2 440.0M501.6 462.6L524.2 440.0M505.6 462.6L528.2 440.0M509.6 462.6L532.2 440.0M513.6 462.6L536.2 440.0M517.6 462.6L540.2 440.0M521.6 462.6L544.2 440.0M525.6 462.6L548.2 440.0M529.6 462.6L552.2 440.0" stroke="#5cb4f2" stroke-width="1.15" fill="none"/>
</g>
<rect x="496.2" y="440.0" width="13.5" height="22.6" rx="0" fill="none" stroke="#e4f1fb" stroke-width="1"/>
<line x1="408.2" y1="405.4" x2="408.2" y2="440.0" stroke="#e4f1fb" stroke-width="1.2"/>
<line x1="423.0" y1="405.4" x2="423.0" y2="449.0" stroke="#e4f1fb" stroke-width="1.2"/>
<line x1="496.2" y1="405.4" x2="496.2" y2="440.0" stroke="#e4f1fb" stroke-width="1.2"/>
<line x1="509.7" y1="405.4" x2="509.7" y2="440.0" stroke="#e4f1fb" stroke-width="1.2"/>
<line x1="423.0" y1="449.0" x2="496.2" y2="449.0" stroke="#e4f1fb" stroke-width="1.2"/>
<path d="M408.2 462.6H452.6V614.4" fill="none" stroke="#e4f1fb" stroke-width="1.3"/>
<path d="M509.7 462.6H466.2V614.4" fill="none" stroke="#e4f1fb" stroke-width="1.3"/>
<text class="s" transform="translate(159.6,550.0) scale(0.77,1)" font-size="9.9" fill="#e4f1fb" text-anchor="start">25</text>
<text class="s" transform="translate(191.5,550.0) scale(0.77,1)" font-size="9.9" fill="#e4f1fb" text-anchor="start">90</text>
<text class="s" transform="translate(330.2,550.0) scale(0.77,1)" font-size="9.9" fill="#e4f1fb" text-anchor="start">412</text>
<text class="s" transform="translate(455.2,550.0) scale(0.77,1)" font-size="9.9" fill="#e4f1fb" text-anchor="start">25</text>
<text class="s" transform="translate(379.6,538.5) rotate(-90) scale(0.77,1)" font-size="9.9" fill="#e4f1fb" text-anchor="middle">270</text>
<text class="s" transform="translate(435.6,538.5) rotate(-90) scale(0.77,1)" font-size="9.9" fill="#e4f1fb" text-anchor="middle">270</text>
<text class="s" transform="translate(482.3,538.5) rotate(-90) scale(0.77,1)" font-size="9.9" fill="#e4f1fb" text-anchor="middle">270</text>
<text class="s" transform="translate(150.0,599.3) scale(0.77,1)" font-size="9.9" fill="#e4f1fb" text-anchor="start">10</text>
<text class="s" transform="translate(159.6,599.3) scale(0.77,1)" font-size="9.9" fill="#e4f1fb" text-anchor="start">25</text>
<text class="s" transform="translate(310.6,599.3) scale(0.77,1)" font-size="9.9" fill="#e4f1fb" text-anchor="start">235</text>
<text class="s" transform="translate(411.5,599.3) scale(0.77,1)" font-size="9.9" fill="#e4f1fb" text-anchor="start">124</text>
<text class="s" transform="translate(455.2,599.3) scale(0.77,1)" font-size="9.9" fill="#e4f1fb" text-anchor="start">25</text>
<text class="s" transform="translate(495.4,599.3) scale(0.77,1)" font-size="9.9" fill="#e4f1fb" text-anchor="start">124</text>
<line x1="251.8" y1="596.4" x2="251.8" y2="611.0" stroke="#b9d6ea" stroke-width="0.9"/>
<line x1="383.3" y1="596.4" x2="383.3" y2="611.0" stroke="#b9d6ea" stroke-width="0.9"/>
<rect x="150.3" y="614.4" width="101.5" height="13.8" rx="0" fill="none" stroke="#e4f1fb" stroke-width="1.2"/>
<line x1="70.6" y1="623.0" x2="530.8" y2="623.0" stroke="#5aaee6" stroke-width="0.9" stroke-dasharray="32.2 6 1 6" stroke-dashoffset="14"/>
<line x1="70.6" y1="614.9" x2="147.0" y2="614.9" stroke="#e4f1fb" stroke-width="1"/>
<line x1="70.6" y1="617.6" x2="147.0" y2="617.6" stroke="#3aa6f2" stroke-width="1.3"/>
<line x1="70.6" y1="620.0" x2="147.0" y2="620.0" stroke="#e4f1fb" stroke-width="0.9"/>
<line x1="70.6" y1="628.6" x2="150.3" y2="628.6" stroke="#3aa6f2" stroke-width="1.4"/>
<line x1="147.0" y1="614.9" x2="147.0" y2="620.0" stroke="#e4f1fb" stroke-width="0.9"/>
<line x1="254.0" y1="615.3" x2="380.0" y2="615.3" stroke="#e4f1fb" stroke-width="1"/>
<line x1="254.0" y1="617.8" x2="380.0" y2="617.8" stroke="#3aa6f2" stroke-width="1.3"/>
<line x1="251.8" y1="629.0" x2="382.6" y2="629.0" stroke="#3aa6f2" stroke-width="1.4"/>
<line x1="254.0" y1="612.0" x2="254.0" y2="618.0" stroke="#e4f1fb" stroke-width="0.9"/>
<line x1="380.0" y1="612.0" x2="380.0" y2="618.0" stroke="#e4f1fb" stroke-width="0.9"/>
<text class="s" transform="translate(184.9,621.3) rotate(-90) scale(0.77,1)" font-size="9.9" fill="#e4f1fb" text-anchor="middle">25</text>
<text class="s" transform="translate(378.2,621.3) rotate(-90) scale(0.77,1)" font-size="9.9" fill="#e4f1fb" text-anchor="middle">25</text>
<text class="s" transform="translate(435.6,621.3) rotate(-90) scale(0.77,1)" font-size="9.9" fill="#e4f1fb" text-anchor="middle">25</text>
<text class="s" transform="translate(482.3,621.3) rotate(-90) scale(0.77,1)" font-size="9.9" fill="#e4f1fb" text-anchor="middle">25</text>
<path d="M452.6 614.4H382.6V628.2H529.6V614.4H466.2" fill="none" stroke="#e4f1fb" stroke-width="1.2"/>
<line x1="388.5" y1="614.4" x2="388.5" y2="628.2" stroke="#e4f1fb" stroke-width="1"/>
<clipPath id="h343"><rect x="388.5" y="614.4" width="34.1" height="13.8"/></clipPath>
<g clip-path="url(#h343)">
<path d="M374.7 614.4L388.5 628.2M377.9 614.4L391.7 628.2M381.1 614.4L394.9 628.2M384.3 614.4L398.1 628.2M387.5 614.4L401.3 628.2M390.7 614.4L404.5 628.2M393.9 614.4L407.7 628.2M397.1 614.4L410.9 628.2M400.3 614.4L414.1 628.2M403.5 614.4L417.3 628.2M406.7 614.4L420.5 628.2M409.9 614.4L423.7 628.2M413.1 614.4L426.9 628.2M416.3 614.4L430.1 628.2M419.5 614.4L433.3 628.2M422.7 614.4L436.5 628.2M425.9 614.4L439.7 628.2M429.1 614.4L442.9 628.2M432.3 614.4L446.1 628.2M435.5 614.4L449.3 628.2" stroke="#6cbcf5" stroke-width="1.2" fill="none"/>
</g>
<rect x="388.5" y="614.4" width="34.1" height="13.8" rx="0" fill="none" stroke="#e4f1fb" stroke-width="1"/>
<clipPath id="h348"><rect x="496.2" y="614.4" width="33.4" height="13.8"/></clipPath>
<g clip-path="url(#h348)">
<path d="M482.4 614.4L496.2 628.2M485.6 614.4L499.4 628.2M488.8 614.4L502.6 628.2M492.0 614.4L505.8 628.2M495.2 614.4L509.0 628.2M498.4 614.4L512.2 628.2M501.6 614.4L515.4 628.2M504.8 614.4L518.6 628.2M508.0 614.4L521.8 628.2M511.2 614.4L525.0 628.2M514.4 614.4L528.2 628.2M517.6 614.4L531.4 628.2M520.8 614.4L534.6 628.2M524.0 614.4L537.8 628.2M527.2 614.4L541.0 628.2M530.4 614.4L544.2 628.2M533.6 614.4L547.4 628.2M536.8 614.4L550.6 628.2M540.0 614.4L553.8 628.2M543.2 614.4L557.0 628.2" stroke="#6cbcf5" stroke-width="1.2" fill="none"/>
</g>
<rect x="496.2" y="614.4" width="33.4" height="13.8" rx="0" fill="none" stroke="#e4f1fb" stroke-width="1"/>
<line x1="313.3" y1="614.4" x2="313.3" y2="653.6" stroke="#b9d6ea" stroke-width="0.9"/>
<circle cx="313.3" cy="661.0" r="7.4" fill="none" stroke="#e4f1fb" stroke-width="0.9"/>
<text class="s" transform="translate(317.1,661.0) rotate(-90) scale(0.9,1)" font-size="10" fill="#e4f1fb" text-anchor="middle">P6</text>
<text class="s" transform="translate(313.0,641.8) rotate(-90) scale(0.78,1)" font-size="9" fill="#e4f1fb" text-anchor="middle">235</text>
<text class="s" transform="translate(319.8,639.4) rotate(-90) scale(0.78,1)" font-size="9" fill="#e4f1fb" text-anchor="middle">90</text>
<text class="s" transform="translate(482.3,668.7) rotate(-90) scale(0.77,1)" font-size="9.9" fill="#e4f1fb" text-anchor="middle">150</text>
</g>
<text class="s" x="409.8" y="798.8" font-size="27" fill="#ffffff">B</text>
<g clip-path="url(#clipR)">
<line x1="682.8" y1="52.8" x2="1045.1" y2="52.8" stroke="#3aa6f2" stroke-width="1.5"/>
<line x1="682.8" y1="55.9" x2="1045.1" y2="55.9" stroke="#3aa6f2" stroke-width="1.5"/>
<line x1="682.8" y1="59.2" x2="1045.1" y2="59.2" stroke="#b9d6ea" stroke-width="0.9"/>
<line x1="682.8" y1="87.4" x2="1045.1" y2="87.4" stroke="#5aaee6" stroke-width="1.1"/>
<line x1="682.8" y1="102.3" x2="897.0" y2="102.3" stroke="#5aaee6" stroke-width="1"/>
<line x1="986.7" y1="102.3" x2="1045.1" y2="102.3" stroke="#5aaee6" stroke-width="1"/>
<line x1="682.8" y1="207.2" x2="1045.1" y2="207.2" stroke="#5aaee6" stroke-width="1.1"/>
<line x1="682.8" y1="243.6" x2="1045.1" y2="243.6" stroke="#3aa6f2" stroke-width="1.6"/>
<line x1="738.0" y1="242.6" x2="803.0" y2="242.6" stroke="#3aa6f2" stroke-width="2.5"/>
<line x1="682.8" y1="323.3" x2="1045.1" y2="323.3" stroke="#3aa6f2" stroke-width="1.5"/>
<line x1="682.8" y1="334.1" x2="1045.1" y2="334.1" stroke="#5aaee6" stroke-width="1.1" stroke-dasharray="32.2 6 1 6" stroke-dashoffset="5"/>
<line x1="682.8" y1="365.0" x2="1045.1" y2="365.0" stroke="#5aaee6" stroke-width="1.1"/>
<line x1="682.8" y1="431.8" x2="1045.1" y2="431.8" stroke="#5aaee6" stroke-width="1.1"/>
<line x1="701.8" y1="456.2" x2="1045.1" y2="456.2" stroke="#5aaee6" stroke-width="1.1" stroke-dasharray="32.2 6 1 6" stroke-dashoffset="0"/>
<line x1="682.8" y1="518.8" x2="1045.1" y2="518.8" stroke="#e4f1fb" stroke-width="1.3" stroke-dasharray="52.6 10.2 11.6 10.2" stroke-dashoffset="11.5"/>
<line x1="682.8" y1="550.5" x2="1045.1" y2="550.5" stroke="#5aaee6" stroke-width="1.1" stroke-dasharray="32.2 6 1 6" stroke-dashoffset="15"/>
<line x1="682.8" y1="557.4" x2="1045.1" y2="557.4" stroke="#5aaee6" stroke-width="1.1"/>
<line x1="682.8" y1="575.4" x2="1045.1" y2="575.4" stroke="#5aaee6" stroke-width="1.1"/>
<line x1="682.8" y1="596.4" x2="1045.1" y2="596.4" stroke="#5aaee6" stroke-width="1.1"/>
<line x1="682.8" y1="690.5" x2="1045.1" y2="690.5" stroke="#3aa6f2" stroke-width="1.4"/>
<line x1="682.8" y1="695.9" x2="973.4" y2="695.9" stroke="#3f90cc" stroke-width="1"/>
<line x1="682.8" y1="701.3" x2="973.4" y2="701.3" stroke="#3aa6f2" stroke-width="1.5"/>
<line x1="682.8" y1="704.2" x2="973.4" y2="704.2" stroke="#3aa6f2" stroke-width="1.5"/>
<line x1="682.8" y1="709.5" x2="1045.1" y2="709.5" stroke="#3aa6f2" stroke-width="1.3"/>
</g>
<line x1="700.5" y1="50.8" x2="700.5" y2="247.0" stroke="#3aa6f2" stroke-width="1.5"/>
<line x1="728.8" y1="0.0" x2="728.8" y2="765.0" stroke="#5aaee6" stroke-width="1.1" stroke-dasharray="32.2 6 1 6" stroke-dashoffset="0.7"/>
<line x1="757.8" y1="50.8" x2="757.8" y2="628.0" stroke="#5aaee6" stroke-width="1"/>
<line x1="866.3" y1="50.8" x2="866.3" y2="712.6" stroke="#3aa6f2" stroke-width="1.4"/>
<line x1="950.2" y1="50.8" x2="950.2" y2="712.6" stroke="#3aa6f2" stroke-width="1.3"/>
<line x1="979.8" y1="0.0" x2="979.8" y2="765.0" stroke="#5aaee6" stroke-width="1.1" stroke-dasharray="32.2 6 1 6" stroke-dashoffset="0.7"/>
<line x1="1010.3" y1="0.0" x2="1010.3" y2="755.0" stroke="#e4f1fb" stroke-width="1.2" stroke-dasharray="54.5 10 10.5 10" stroke-dashoffset="65.5"/>
<line x1="1010.3" y1="93.0" x2="1010.3" y2="106.0" stroke="#e4f1fb" stroke-width="1.2"/>
<line x1="1010.3" y1="764.0" x2="1010.3" y2="765.5" stroke="#e4f1fb" stroke-width="1.2"/>
<line x1="1023.6" y1="179.4" x2="1023.6" y2="626.0" stroke="#5aaee6" stroke-width="1.3"/>
<g clip-path="url(#clipR)">
<text class="s" transform="translate(794.9,74.6) scale(0.997,1)" font-size="13.5" fill="#e4f1fb" text-anchor="start">KORİDOR</text>
<text class="s" transform="translate(793.0,85.4) scale(0.992,1)" font-size="10.9" fill="#e4f1fb" text-anchor="start">Al.: 47.65 m2</text>
<text class="s" transform="translate(758.2,88.7) rotate(-90) scale(0.77,1)" font-size="9.9" fill="#e4f1fb" text-anchor="middle">130</text>
<text class="s" transform="translate(866.6,88.7) rotate(-90) scale(0.77,1)" font-size="9.9" fill="#e4f1fb" text-anchor="middle">130</text>
<text class="s" transform="translate(1014.0,87.2) scale(0.77,1)" font-size="9.9" fill="#e4f1fb" text-anchor="start">2880</text>
<text class="s" transform="translate(1017.4,102.1) scale(0.77,1)" font-size="9.9" fill="#e4f1fb" text-anchor="start">130</text>
<text class="s" transform="translate(686.7,102.1) scale(0.77,1)" font-size="9.9" fill="#e4f1fb" text-anchor="start">155</text>
<text class="s" transform="translate(809.2,102.1) scale(0.77,1)" font-size="9.9" fill="#e4f1fb" text-anchor="start">285</text>
<line x1="735.4" y1="99.0" x2="735.4" y2="126.5" stroke="#b9d6ea" stroke-width="0.9"/>
<line x1="895.6" y1="99.0" x2="895.6" y2="126.5" stroke="#b9d6ea" stroke-width="0.9"/>
<line x1="986.7" y1="100.0" x2="986.7" y2="123.0" stroke="#b9d6ea" stroke-width="0.9"/>
<line x1="733.9" y1="103.8" x2="736.9" y2="100.8" stroke="#b9d6ea" stroke-width="0.8"/>
<line x1="894.1" y1="103.8" x2="897.1" y2="100.8" stroke="#b9d6ea" stroke-width="0.8"/>
<line x1="985.2" y1="103.8" x2="988.2" y2="100.8" stroke="#b9d6ea" stroke-width="0.8"/>
<text class="s" transform="translate(701.2,116.2) rotate(-90) scale(0.77,1)" font-size="9.9" fill="#e4f1fb" text-anchor="middle">225</text>
<text class="s" transform="translate(950.2,116.2) rotate(-90) scale(0.77,1)" font-size="9.9" fill="#e4f1fb" text-anchor="middle">225</text>
<text class="s" x="794.9" y="113.5" font-size="7.4" fill="#e4f1fb" textLength="45.6" lengthAdjust="spacingAndGlyphs" opacity="0.9">al.korkuluk h:90cm</text>
<line x1="823.8" y1="113.5" x2="835.4" y2="122.0" stroke="#b9d6ea" stroke-width="0.8"/>
<text class="s" x="949.5" y="113.5" font-size="7.4" fill="#e4f1fb" textLength="45" lengthAdjust="spacingAndGlyphs" opacity="0.9">al.korkuluk h:90cm</text>
<line x1="982.8" y1="114.4" x2="989.2" y2="122.0" stroke="#b9d6ea" stroke-width="0.8"/>
<text class="s" x="1036.7" y="113.5" font-size="7.4" fill="#e4f1fb" textLength="45" lengthAdjust="spacingAndGlyphs" opacity="0.9">al.korkuluk h:90cm</text>
<text class="s" transform="translate(674.7,135.8) scale(1.0,1)" font-size="13.7" fill="#e4f1fb" text-anchor="start">SAÇAK</text>
<text class="s" transform="translate(675.0,150.2) scale(1.0,1)" font-size="13.5" fill="#e4f1fb" text-anchor="start">HİZASI</text>
<line x1="682.8" y1="126.5" x2="736.4" y2="126.5" stroke="#e4f1fb" stroke-width="1"/>
<path d="M729.4 179.3V121.4H900.8V179.3" fill="none" stroke="#b9d6ea" stroke-width="1"/>
<path d="M733.2 179.3V124.2H897V179.3" fill="none" stroke="#3aa6f2" stroke-width="1.2"/>
<path d="M735.4 179.3V126.5H895.6V179.3" fill="none" stroke="#e4f1fb" stroke-width="1"/>
<line x1="900.8" y1="120.8" x2="967.4" y2="120.8" stroke="#b9d6ea" stroke-width="1" stroke-dasharray="7 5"/>
<path d="M967.4 120.8H1046" fill="none" stroke="#b9d6ea" stroke-width="1"/>
<path d="M972.6 179.3V123.3H1046" fill="none" stroke="#3aa6f2" stroke-width="1.1"/>
<path d="M972.6 179.3V123.3" fill="none" stroke="#e4f1fb" stroke-width="1"/>
<line x1="989.2" y1="123.3" x2="989.2" y2="179.3" stroke="#e4f1fb" stroke-width="1"/>
<line x1="992.6" y1="123.3" x2="992.6" y2="179.3" stroke="#3aa6f2" stroke-width="1.2"/>
<line x1="736.0" y1="126.5" x2="895.0" y2="178.5" stroke="#b9d6ea" stroke-width="0.9" stroke-dasharray="8 8"/>
<line x1="736.0" y1="178.5" x2="895.0" y2="126.5" stroke="#b9d6ea" stroke-width="0.9" stroke-dasharray="8 8"/>
<line x1="793.0" y1="142.1" x2="842.3" y2="142.1" stroke="#3aa6f2" stroke-width="1.5"/>
<line x1="805.8" y1="128.5" x2="805.8" y2="155.4" stroke="#3aa6f2" stroke-width="1.5"/>
<circle cx="805.8" cy="142.1" r="5.6" fill="none" stroke="#e4f1fb" stroke-width="0.9"/>
<path d="M805.8 142.1L805.8 136.5A5.6 5.6 0 0 1 811.4 142.1Z M805.8 142.1L805.8 147.7A5.6 5.6 0 0 1 800.2 142.1Z" fill="#ffffff"/>
<text class="r" transform="translate(809.3,138.2) scale(1.0,1)" font-size="11.8" fill="#e4f1fb" text-anchor="start">+0.10</text>
<line x1="811.5" y1="150.5" x2="815.5" y2="153.5" stroke="#b9d6ea" stroke-width="0.8"/>
<line x1="811.5" y1="153.5" x2="815.5" y2="150.5" stroke="#b9d6ea" stroke-width="0.8"/>
<text class="r" transform="translate(791.2,174.2) scale(1.0,1)" font-size="12" fill="#e4f1fb" text-anchor="start">ysb</text>
<circle cx="812.8" cy="175.2" r="3.7" fill="none" stroke="#e4f1fb" stroke-width="0.9"/>
<circle cx="774.0" cy="151.4" r="7.2" fill="none" stroke="#e4f1fb" stroke-width="0.9"/>
<text class="s" transform="translate(778.0,151.4) rotate(-90) scale(0.9,1)" font-size="10.5" fill="#e4f1fb" text-anchor="middle">P1</text>
<line x1="774.0" y1="158.6" x2="774.0" y2="193.5" stroke="#b9d6ea" stroke-width="0.9"/>
<circle cx="855.3" cy="151.4" r="7.2" fill="none" stroke="#e4f1fb" stroke-width="0.9"/>
<text class="s" transform="translate(859.3,151.4) rotate(-90) scale(0.9,1)" font-size="10.5" fill="#e4f1fb" text-anchor="middle">P1</text>
<line x1="855.3" y1="158.6" x2="855.3" y2="197.6" stroke="#b9d6ea" stroke-width="0.9"/>
<text class="s" transform="translate(758.6,138.0) rotate(-90) scale(0.77,1)" font-size="9.9" fill="#e4f1fb" text-anchor="middle">45</text>
<text class="s" transform="translate(758.6,165.3) rotate(-90) scale(0.77,1)" font-size="9.9" fill="#e4f1fb" text-anchor="middle">50</text>
<line x1="752.0" y1="151.0" x2="758.0" y2="151.0" stroke="#b9d6ea" stroke-width="0.8"/>
<text class="s" transform="translate(773.5,166.0) rotate(-90) scale(0.77,1)" font-size="9.6" fill="#e4f1fb" text-anchor="middle">110</text>
<text class="s" transform="translate(781.2,166.5) rotate(-90) scale(0.77,1)" font-size="9.6" fill="#e4f1fb" text-anchor="middle">80</text>
<text class="s" transform="translate(857.1,167.0) rotate(-90) scale(0.77,1)" font-size="9.6" fill="#e4f1fb" text-anchor="middle">85</text>
<text class="s" transform="translate(863.3,167.0) rotate(-90) scale(0.77,1)" font-size="9.6" fill="#e4f1fb" text-anchor="middle">130</text>
<text class="s" transform="translate(867.1,152.8) rotate(-90) scale(0.77,1)" font-size="9.6" fill="#e4f1fb" text-anchor="middle">55</text>
<line x1="682.8" y1="179.3" x2="716.5" y2="179.3" stroke="#3aa6f2" stroke-width="1.4"/>
<line x1="682.8" y1="182.0" x2="716.5" y2="182.0" stroke="#e4f1fb" stroke-width="1"/>
<line x1="682.8" y1="193.5" x2="716.5" y2="193.5" stroke="#3aa6f2" stroke-width="1.4"/>
<line x1="682.8" y1="185.4" x2="1045.1" y2="185.4" stroke="#3aa6f2" stroke-width="1.2" stroke-dasharray="32.2 6 1 6" stroke-dashoffset="22"/>
<rect x="716.5" y="179.3" width="25.0" height="14.2" rx="0" fill="none" stroke="#e4f1fb" stroke-width="1.2"/>
<clipPath id="h461"><rect x="722.4" y="179.3" width="13.2" height="33.0"/></clipPath>
<g clip-path="url(#h461)">
<path d="M689.4 212.3L722.4 179.3M693.4 212.3L726.4 179.3M697.4 212.3L730.4 179.3M701.4 212.3L734.4 179.3M705.4 212.3L738.4 179.3M709.4 212.3L742.4 179.3M713.4 212.3L746.4 179.3M717.4 212.3L750.4 179.3M721.4 212.3L754.4 179.3M725.4 212.3L758.4 179.3M729.4 212.3L762.4 179.3M733.4 212.3L766.4 179.3M737.4 212.3L770.4 179.3M741.4 212.3L774.4 179.3M745.4 212.3L778.4 179.3M749.4 212.3L782.4 179.3M753.4 212.3L786.4 179.3M757.4 212.3L790.4 179.3M761.4 212.3L794.4 179.3M765.4 212.3L798.4 179.3" stroke="#5cb4f2" stroke-width="1.15" fill="none"/>
</g>
<rect x="722.4" y="179.3" width="13.2" height="33.0" rx="0" fill="none" stroke="#e4f1fb" stroke-width="1"/>
<line x1="711.0" y1="190.5" x2="711.0" y2="245.6" stroke="#e4f1fb" stroke-width="1"/>
<line x1="713.6" y1="190.5" x2="713.6" y2="245.6" stroke="#e4f1fb" stroke-width="1"/>
<line x1="709.0" y1="190.5" x2="716.5" y2="190.5" stroke="#e4f1fb" stroke-width="1"/>
<path d="M682.8 235.4Q692 244.5 704.6 247" fill="none" stroke="#b9d6ea" stroke-width="0.9"/>
<text class="s" transform="translate(706.6,218.5) rotate(-90) scale(0.8,1)" font-size="9.3" fill="#e4f1fb" text-anchor="middle">K1 100/225</text>
<line x1="742.8" y1="189.0" x2="773.6" y2="189.0" stroke="#e4f1fb" stroke-width="1"/>
<line x1="742.8" y1="190.7" x2="773.6" y2="190.7" stroke="#3aa6f2" stroke-width="1.5"/>
<line x1="773.6" y1="192.0" x2="800.5" y2="192.0" stroke="#e4f1fb" stroke-width="1.6"/>
<line x1="742.8" y1="186.0" x2="742.8" y2="193.5" stroke="#e4f1fb" stroke-width="0.9"/>
<line x1="773.6" y1="187.0" x2="773.6" y2="193.5" stroke="#e4f1fb" stroke-width="0.9"/>
<line x1="800.5" y1="187.0" x2="800.5" y2="193.5" stroke="#e4f1fb" stroke-width="0.9"/>
<line x1="741.5" y1="179.3" x2="802.4" y2="179.3" stroke="#b9d6ea" stroke-width="0.9"/>
<rect x="802.4" y="179.3" width="28.9" height="14.4" rx="0" fill="none" stroke="#e4f1fb" stroke-width="1.2"/>
<rect x="878.7" y="179.3" width="33.1" height="14.4" rx="0" fill="none" stroke="#e4f1fb" stroke-width="1.2"/>
<rect x="878.7" y="193.7" width="33.1" height="32.7" rx="0" fill="none" stroke="#e4f1fb" stroke-width="1.1"/>
<line x1="879.7" y1="227.9" x2="890.0" y2="227.9" stroke="#3aa6f2" stroke-width="1.7"/>
<line x1="827.8" y1="176.4" x2="879.7" y2="176.4" stroke="#3aa6f2" stroke-width="1.3"/>
<line x1="831.3" y1="179.3" x2="878.7" y2="179.3" stroke="#e4f1fb" stroke-width="1"/>
<line x1="833.0" y1="187.3" x2="876.0" y2="187.3" stroke="#e4f1fb" stroke-width="1"/>
<line x1="833.0" y1="189.3" x2="876.0" y2="189.3" stroke="#3aa6f2" stroke-width="1.4"/>
<line x1="833.0" y1="190.6" x2="876.0" y2="190.6" stroke="#b9d6ea" stroke-width="0.9"/>
<line x1="834.0" y1="187.3" x2="834.0" y2="193.7" stroke="#e4f1fb" stroke-width="0.9"/>
<line x1="875.0" y1="187.3" x2="875.0" y2="193.7" stroke="#e4f1fb" stroke-width="0.9"/>
<line x1="803.0" y1="193.7" x2="803.0" y2="339.2" stroke="#e4f1fb" stroke-width="1.2"/>
<line x1="811.5" y1="193.7" x2="811.5" y2="331.7" stroke="#e4f1fb" stroke-width="1.2"/>
<rect x="817.6" y="197.0" width="57.0" height="28.8" rx="0" fill="none" stroke="#7cc4f5" stroke-width="1.3"/>
<rect x="819.7" y="199.2" width="52.3" height="24.0" rx="2.5" fill="none" stroke="#e4f1fb" stroke-width="1"/>
<line x1="825.3" y1="201.6" x2="844.5" y2="201.6" stroke="#6cbcf5" stroke-width="1.7"/>
<line x1="825.3" y1="204.3" x2="844.5" y2="204.3" stroke="#6cbcf5" stroke-width="1.7"/>
<line x1="825.3" y1="207.0" x2="844.5" y2="207.0" stroke="#6cbcf5" stroke-width="1.7"/>
<line x1="825.3" y1="209.7" x2="844.5" y2="209.7" stroke="#6cbcf5" stroke-width="1.7"/>
<line x1="825.3" y1="212.4" x2="844.5" y2="212.4" stroke="#6cbcf5" stroke-width="1.7"/>
<line x1="825.3" y1="215.1" x2="844.5" y2="215.1" stroke="#6cbcf5" stroke-width="1.7"/>
<line x1="825.3" y1="217.8" x2="844.5" y2="217.8" stroke="#6cbcf5" stroke-width="1.7"/>
<line x1="825.3" y1="220.5" x2="844.5" y2="220.5" stroke="#6cbcf5" stroke-width="1.7"/>
<rect x="845.8" y="202.0" width="23.0" height="18.0" rx="3" fill="none" stroke="#e4f1fb" stroke-width="1"/>
<circle cx="857.3" cy="211.0" r="1.2" fill="none" stroke="#b9d6ea" stroke-width="0.8"/>
<path d="M912.4 182.8C913 215 930 240 958 244.6" fill="none" stroke="#b9d6ea" stroke-width="1"/>
<rect x="962.4" y="189.5" width="2.7" height="54.5" rx="0" fill="none" stroke="#e4f1fb" stroke-width="0.9"/>
<line x1="960.0" y1="193.0" x2="960.0" y2="244.0" stroke="#b9d6ea" stroke-width="0.8"/>
<text class="s" transform="translate(959.7,217.0) rotate(-90) scale(0.8,1)" font-size="9.3" fill="#e4f1fb" text-anchor="middle">K1 100/225</text>
<rect x="967.7" y="179.3" width="5.1" height="14.1" rx="0" fill="none" stroke="#e4f1fb" stroke-width="1"/>
<clipPath id="h508"><rect x="972.8" y="179.3" width="14.2" height="32.7"/></clipPath>
<g clip-path="url(#h508)">
<path d="M940.1 212.0L972.8 179.3M944.1 212.0L976.8 179.3M948.1 212.0L980.8 179.3M952.1 212.0L984.8 179.3M956.1 212.0L988.8 179.3M960.1 212.0L992.8 179.3M964.1 212.0L996.8 179.3M968.1 212.0L1000.8 179.3M972.1 212.0L1004.8 179.3M976.1 212.0L1008.8 179.3M980.1 212.0L1012.8 179.3M984.1 212.0L1016.8 179.3M988.1 212.0L1020.8 179.3M992.1 212.0L1024.8 179.3M996.1 212.0L1028.8 179.3M1000.1 212.0L1032.8 179.3M1004.1 212.0L1036.8 179.3M1008.1 212.0L1040.8 179.3M1012.1 212.0L1044.8 179.3M1016.1 212.0L1048.8 179.3" stroke="#5cb4f2" stroke-width="1.15" fill="none"/>
</g>
<rect x="972.8" y="179.3" width="14.2" height="32.7" rx="0" fill="none" stroke="#e4f1fb" stroke-width="1"/>
<line x1="911.8" y1="179.4" x2="967.7" y2="179.4" stroke="#e4f1fb" stroke-width="1"/>
<line x1="911.8" y1="193.5" x2="916.0" y2="193.5" stroke="#e4f1fb" stroke-width="1"/>
<text class="s" transform="translate(682.8,207.0) scale(0.77,1)" font-size="9.9" fill="#e4f1fb" text-anchor="start">100</text>
<text class="s" transform="translate(716.0,207.0) scale(0.77,1)" font-size="9.9" fill="#e4f1fb" text-anchor="start">10</text>
<text class="s" transform="translate(724.8,207.0) scale(0.77,1)" font-size="9.9" fill="#e4f1fb" text-anchor="start">25</text>
<text class="s" transform="translate(737.2,207.0) scale(0.77,1)" font-size="9.9" fill="#e4f1fb" text-anchor="start">10</text>
<text class="s" transform="translate(765.6,207.0) scale(0.77,1)" font-size="9.9" fill="#e4f1fb" text-anchor="start">110</text>
<text class="s" transform="translate(803.6,207.0) scale(0.77,1)" font-size="9.9" fill="#e4f1fb" text-anchor="start">15</text>
<text class="s" transform="translate(817.6,207.0) scale(0.77,1)" font-size="9.9" fill="#e4f1fb" text-anchor="start">35</text>
<text class="s" transform="translate(850.3,207.0) scale(0.77,1)" font-size="9.9" fill="#e4f1fb" text-anchor="start">85</text>
<text class="s" transform="translate(890.8,207.0) scale(0.77,1)" font-size="9.9" fill="#e4f1fb" text-anchor="start">60</text>
<text class="s" transform="translate(933.8,207.0) scale(0.77,1)" font-size="9.9" fill="#e4f1fb" text-anchor="start">100</text>
<text class="s" transform="translate(966.9,207.0) scale(0.77,1)" font-size="9.9" fill="#e4f1fb" text-anchor="start">10</text>
<text class="s" transform="translate(975.4,207.0) scale(0.77,1)" font-size="9.9" fill="#e4f1fb" text-anchor="start">25</text>
<text class="s" transform="translate(1017.4,207.0) scale(0.77,1)" font-size="9.9" fill="#e4f1fb" text-anchor="start">130</text>
<text class="s" transform="translate(865.3,210.4) rotate(-90) scale(0.85,1)" font-size="6.5" fill="#e4f1fb" text-anchor="middle">61</text>
<text class="s" transform="translate(701.2,185.6) rotate(-90) scale(0.77,1)" font-size="9.9" fill="#e4f1fb" text-anchor="middle">25</text>
<text class="s" transform="translate(758.6,185.6) rotate(-90) scale(0.77,1)" font-size="9.9" fill="#e4f1fb" text-anchor="middle">25</text>
<text class="s" transform="translate(866.2,186.0) rotate(-90) scale(0.77,1)" font-size="9.9" fill="#e4f1fb" text-anchor="middle">25</text>
<text class="s" transform="translate(950.8,185.6) rotate(-90) scale(0.77,1)" font-size="9.9" fill="#e4f1fb" text-anchor="middle">25</text>
<text class="s" transform="translate(725.2,243.4) scale(0.77,1)" font-size="9.9" fill="#e4f1fb" text-anchor="start">25</text>
<text class="s" transform="translate(764.4,243.4) scale(0.77,1)" font-size="9.9" fill="#e4f1fb" text-anchor="start">120</text>
<text class="s" transform="translate(803.6,243.4) scale(0.77,1)" font-size="9.9" fill="#e4f1fb" text-anchor="start">15</text>
<text class="s" transform="translate(900.9,243.4) scale(0.77,1)" font-size="9.9" fill="#e4f1fb" text-anchor="start">236</text>
<text class="s" transform="translate(976.0,243.4) scale(0.77,1)" font-size="9.9" fill="#e4f1fb" text-anchor="start">25</text>
<text class="s" transform="translate(1017.4,243.4) scale(0.77,1)" font-size="9.9" fill="#e4f1fb" text-anchor="start">130</text>
<line x1="722.5" y1="212.0" x2="722.5" y2="592.0" stroke="#e4f1fb" stroke-width="1.2"/>
<line x1="735.5" y1="212.0" x2="735.5" y2="611.3" stroke="#e4f1fb" stroke-width="1.2"/>
<line x1="720.6" y1="212.0" x2="720.6" y2="592.0" stroke="#5aaee6" stroke-width="0.9"/>
<rect x="812.4" y="232.8" width="27.6" height="26.4" rx="0" fill="none" stroke="#e4f1fb" stroke-width="1"/>
<text class="s" transform="translate(813.8,243.7) scale(0.976,1)" font-size="11.8" fill="#e4f1fb" text-anchor="start">BUL.</text>
<text class="s" transform="translate(813.8,258.4) scale(0.978,1)" font-size="11.8" fill="#e4f1fb" text-anchor="start">MAK</text>
<rect x="812.4" y="261.8" width="27.6" height="32.7" rx="0" fill="none" stroke="#e4f1fb" stroke-width="1"/>
<rect x="813.7" y="263.7" width="10.9" height="13.6" rx="0" fill="none" stroke="#b9d6ea" stroke-width="0.9"/>
<line x1="813.7" y1="263.7" x2="824.6" y2="277.3" stroke="#b9d6ea" stroke-width="0.8"/>
<line x1="824.6" y1="263.7" x2="813.7" y2="277.3" stroke="#b9d6ea" stroke-width="0.8"/>
<circle cx="819.1" cy="270.5" r="1.6" fill="none" stroke="#3aa6f2" stroke-width="1"/>
<rect x="826.0" y="263.7" width="10.9" height="13.6" rx="0" fill="none" stroke="#b9d6ea" stroke-width="0.9"/>
<line x1="826.0" y1="263.7" x2="836.9" y2="277.3" stroke="#b9d6ea" stroke-width="0.8"/>
<line x1="836.9" y1="263.7" x2="826.0" y2="277.3" stroke="#b9d6ea" stroke-width="0.8"/>
<circle cx="831.4" cy="270.5" r="1.6" fill="none" stroke="#3aa6f2" stroke-width="1"/>
<rect x="813.7" y="279.3" width="10.9" height="13.6" rx="0" fill="none" stroke="#b9d6ea" stroke-width="0.9"/>
<line x1="813.7" y1="279.3" x2="824.6" y2="292.9" stroke="#b9d6ea" stroke-width="0.8"/>
<line x1="824.6" y1="279.3" x2="813.7" y2="292.9" stroke="#b9d6ea" stroke-width="0.8"/>
<circle cx="819.1" cy="286.1" r="1.6" fill="none" stroke="#3aa6f2" stroke-width="1"/>
<rect x="826.0" y="279.3" width="10.9" height="13.6" rx="0" fill="none" stroke="#b9d6ea" stroke-width="0.9"/>
<line x1="826.0" y1="279.3" x2="836.9" y2="292.9" stroke="#b9d6ea" stroke-width="0.8"/>
<line x1="836.9" y1="279.3" x2="826.0" y2="292.9" stroke="#b9d6ea" stroke-width="0.8"/>
<circle cx="831.4" cy="286.1" r="1.6" fill="none" stroke="#3aa6f2" stroke-width="1"/>
<circle cx="838.5" cy="266.0" r="0.7" fill="none" stroke="#e4f1fb" stroke-width="0.8"/>
<circle cx="838.5" cy="272.0" r="0.7" fill="none" stroke="#e4f1fb" stroke-width="0.8"/>
<circle cx="838.5" cy="282.0" r="0.7" fill="none" stroke="#e4f1fb" stroke-width="0.8"/>
<circle cx="838.5" cy="288.0" r="0.7" fill="none" stroke="#e4f1fb" stroke-width="0.8"/>
<path d="M875 227.4H841.8V339.2" fill="none" stroke="#e4f1fb" stroke-width="1.1"/>
<path d="M841.8 295H903.4V339.2H794.5" fill="none" stroke="#e4f1fb" stroke-width="1.1"/>
<rect x="814.4" y="309.9" width="28.2" height="28.1" rx="0" fill="none" stroke="#e4f1fb" stroke-width="1"/>
<text class="s" transform="translate(816.3,322.0) scale(0.915,1)" font-size="11.8" fill="#e4f1fb" text-anchor="start">ÇAM.</text>
<text class="s" transform="translate(816.3,335.6) scale(0.936,1)" font-size="11.8" fill="#e4f1fb" text-anchor="start">MAK.</text>
<text class="s" transform="translate(866.2,260.5) rotate(-90) scale(0.77,1)" font-size="9.9" fill="#e4f1fb" text-anchor="middle">123</text>
<rect x="737.8" y="254.4" width="8.9" height="19.2" rx="1.5" fill="none" stroke="#e4f1fb" stroke-width="1"/>
<path d="M746.7 253.5C762 252.5 774.6 257 774.6 264C774.6 271 762 275.6 746.7 274.6" fill="none" stroke="#e4f1fb" stroke-width="1"/>
<text class="s" transform="translate(757.3,262.4) rotate(-90) scale(0.8,1)" font-size="9" fill="#e4f1fb" text-anchor="middle">248</text>
<text class="s" transform="translate(741.3,283.6) scale(1.003,1)" font-size="12" fill="#e4f1fb" text-anchor="start">WC+DUŞ</text>
<text class="s" transform="translate(750.3,292.8) scale(0.875,1)" font-size="8.4" fill="#e4f1fb" text-anchor="start">Al.: 2.95 m2</text>
<line x1="735.5" y1="292.0" x2="747.0" y2="292.0" stroke="#e4f1fb" stroke-width="1"/>
<ellipse cx="747" cy="304.7" rx="9" ry="12.8" fill="none" stroke="#b9d6ea" stroke-width="0.9"/>
<ellipse cx="747" cy="304.7" rx="5.8" ry="9.6" fill="none" stroke="#5aaee6" stroke-width="1"/>
<path d="M751 332.3C752 312 768 296.5 790 295.4" fill="none" stroke="#b9d6ea" stroke-width="1"/>
<rect x="790.0" y="295.4" width="2.2" height="36.3" rx="0" fill="none" stroke="#e4f1fb" stroke-width="0.9"/>
<text class="s" transform="translate(788.1,315.6) rotate(-90) scale(0.8,1)" font-size="9" fill="#e4f1fb" text-anchor="middle">K3 80/225</text>
<path d="M735.5 331.7H749.6V339.2" fill="none" stroke="#e4f1fb" stroke-width="1.1"/>
<path d="M803 331.7H794.5V339.2" fill="none" stroke="#e4f1fb" stroke-width="1.1"/>
<line x1="735.5" y1="339.2" x2="794.5" y2="339.2" stroke="#e4f1fb" stroke-width="1"/>
<line x1="749.0" y1="336.0" x2="753.0" y2="331.0" stroke="#b9d6ea" stroke-width="0.8"/>
<line x1="752.0" y1="336.0" x2="756.0" y2="331.0" stroke="#b9d6ea" stroke-width="0.8"/>
<text class="s" transform="translate(680.6,323.0) scale(0.77,1)" font-size="9.9" fill="#e4f1fb" text-anchor="start">125</text>
<text class="s" transform="translate(725.2,323.0) scale(0.77,1)" font-size="9.9" fill="#e4f1fb" text-anchor="start">25</text>
<text class="s" transform="translate(739.4,323.0) scale(0.77,1)" font-size="9.9" fill="#e4f1fb" text-anchor="start">25</text>
<text class="s" transform="translate(768.2,323.0) scale(0.77,1)" font-size="9.9" fill="#e4f1fb" text-anchor="start">80</text>
<text class="s" transform="translate(795.0,323.0) scale(0.77,1)" font-size="9.9" fill="#e4f1fb" text-anchor="start">15</text>
<text class="s" transform="translate(804.0,323.0) scale(0.77,1)" font-size="9.9" fill="#e4f1fb" text-anchor="start">15</text>
<text class="s" transform="translate(850.8,323.0) scale(0.77,1)" font-size="9.9" fill="#e4f1fb" text-anchor="start">168</text>
<text class="s" transform="translate(858.5,323.0) scale(0.8,1)" font-size="9.5" fill="#e4f1fb" text-anchor="start" opacity="0.8">60</text>
<text class="s" transform="translate(932.0,323.0) scale(0.77,1)" font-size="9.9" fill="#e4f1fb" text-anchor="start">125</text>
<text class="s" transform="translate(976.0,323.0) scale(0.77,1)" font-size="9.9" fill="#e4f1fb" text-anchor="start">25</text>
<text class="s" transform="translate(1017.4,323.0) scale(0.77,1)" font-size="9.9" fill="#e4f1fb" text-anchor="start">130</text>
<rect x="742.6" y="342.3" width="63.3" height="16.2" rx="0" fill="none" stroke="#e4f1fb" stroke-width="1"/>
<text class="s" transform="translate(745.6,355.9) scale(0.994,1)" font-size="12.2" fill="#e4f1fb" text-anchor="start">KLİMA</text>
<line x1="829.0" y1="340.5" x2="829.0" y2="354.6" stroke="#b9d6ea" stroke-width="0.9"/>
<line x1="829.0" y1="354.6" x2="832.0" y2="350.5" stroke="#b9d6ea" stroke-width="0.9"/>
<text class="s" transform="translate(725.2,364.8) scale(0.77,1)" font-size="9.9" fill="#e4f1fb" text-anchor="start">25</text>
<text class="s" transform="translate(768.0,364.8) scale(0.77,1)" font-size="9.9" fill="#e4f1fb" text-anchor="start">135</text>
<text class="s" transform="translate(885.6,364.8) scale(0.77,1)" font-size="9.9" fill="#e4f1fb" text-anchor="start">290</text>
<text class="s" transform="translate(976.0,364.8) scale(0.77,1)" font-size="9.9" fill="#e4f1fb" text-anchor="start">25</text>
<text class="s" transform="translate(1017.4,364.8) scale(0.77,1)" font-size="9.9" fill="#e4f1fb" text-anchor="start">130</text>
<line x1="810.5" y1="358.5" x2="810.5" y2="368.0" stroke="#b9d6ea" stroke-width="0.9"/>
<text class="s" transform="translate(759.0,367.0) rotate(-90) scale(0.77,1)" font-size="9.9" fill="#e4f1fb" text-anchor="middle">101</text>
<text class="r" transform="translate(659.6,378.5) scale(1.0,1)" font-size="12" fill="#e4f1fb" text-anchor="start">+3,32</text>
<line x1="682.8" y1="382.3" x2="691.8" y2="382.3" stroke="#3aa6f2" stroke-width="1.4"/>
<line x1="887.4" y1="378.0" x2="936.7" y2="378.0" stroke="#3aa6f2" stroke-width="1.5"/>
<line x1="899.5" y1="365.6" x2="899.5" y2="390.0" stroke="#3aa6f2" stroke-width="1.5"/>
<circle cx="899.5" cy="378.0" r="5.6" fill="none" stroke="#e4f1fb" stroke-width="0.9"/>
<path d="M899.5 378.0L899.5 372.4A5.6 5.6 0 0 1 905.1 378.0Z M899.5 378.0L899.5 383.6A5.6 5.6 0 0 1 893.9 378.0Z" fill="#ffffff"/>
<text class="r" transform="translate(907.0,374.0) scale(1.0,1)" font-size="12" fill="#e4f1fb" text-anchor="start">+3,32</text>
<clipPath id="h617"><rect x="722.5" y="370.8" width="13.0" height="32.8"/></clipPath>
<g clip-path="url(#h617)">
<path d="M689.7 403.6L722.5 370.8M693.7 403.6L726.5 370.8M697.7 403.6L730.5 370.8M701.7 403.6L734.5 370.8M705.7 403.6L738.5 370.8M709.7 403.6L742.5 370.8M713.7 403.6L746.5 370.8M717.7 403.6L750.5 370.8M721.7 403.6L754.5 370.8M725.7 403.6L758.5 370.8M729.7 403.6L762.5 370.8M733.7 403.6L766.5 370.8M737.7 403.6L770.5 370.8M741.7 403.6L774.5 370.8M745.7 403.6L778.5 370.8M749.7 403.6L782.5 370.8M753.7 403.6L786.5 370.8M757.7 403.6L790.5 370.8M761.7 403.6L794.5 370.8M765.7 403.6L798.5 370.8" stroke="#5cb4f2" stroke-width="1.15" fill="none"/>
</g>
<rect x="722.5" y="370.8" width="13.0" height="32.8" rx="0" fill="none" stroke="#e4f1fb" stroke-width="1"/>
<clipPath id="h622"><rect x="972.8" y="370.8" width="14.2" height="32.8"/></clipPath>
<g clip-path="url(#h622)">
<path d="M940.0 403.6L972.8 370.8M944.0 403.6L976.8 370.8M948.0 403.6L980.8 370.8M952.0 403.6L984.8 370.8M956.0 403.6L988.8 370.8M960.0 403.6L992.8 370.8M964.0 403.6L996.8 370.8M968.0 403.6L1000.8 370.8M972.0 403.6L1004.8 370.8M976.0 403.6L1008.8 370.8M980.0 403.6L1012.8 370.8M984.0 403.6L1016.8 370.8M988.0 403.6L1020.8 370.8M992.0 403.6L1024.8 370.8M996.0 403.6L1028.8 370.8M1000.0 403.6L1032.8 370.8M1004.0 403.6L1036.8 370.8M1008.0 403.6L1040.8 370.8M1012.0 403.6L1044.8 370.8M1016.0 403.6L1048.8 370.8" stroke="#5cb4f2" stroke-width="1.15" fill="none"/>
</g>
<rect x="972.8" y="370.8" width="14.2" height="32.8" rx="0" fill="none" stroke="#e4f1fb" stroke-width="1"/>
<clipPath id="h627"><rect x="972.8" y="438.7" width="14.2" height="22.3"/></clipPath>
<g clip-path="url(#h627)">
<path d="M950.5 461.0L972.8 438.7M954.5 461.0L976.8 438.7M958.5 461.0L980.8 438.7M962.5 461.0L984.8 438.7M966.5 461.0L988.8 438.7M970.5 461.0L992.8 438.7M974.5 461.0L996.8 438.7M978.5 461.0L1000.8 438.7M982.5 461.0L1004.8 438.7M986.5 461.0L1008.8 438.7M990.5 461.0L1012.8 438.7M994.5 461.0L1016.8 438.7M998.5 461.0L1020.8 438.7M1002.5 461.0L1024.8 438.7M1006.5 461.0L1028.8 438.7" stroke="#5cb4f2" stroke-width="1.15" fill="none"/>
</g>
<rect x="972.8" y="438.7" width="14.2" height="22.3" rx="0" fill="none" stroke="#e4f1fb" stroke-width="1"/>
<line x1="972.8" y1="212.0" x2="972.8" y2="461.0" stroke="#e4f1fb" stroke-width="1.2"/>
<line x1="987.0" y1="212.0" x2="987.0" y2="447.7" stroke="#e4f1fb" stroke-width="1.2"/>
<line x1="682.8" y1="399.0" x2="780.8" y2="399.0" stroke="#5aaee6" stroke-width="0.9" stroke-dasharray="32.2 6 1 6" stroke-dashoffset="12"/>
<line x1="791.8" y1="399.0" x2="972.8" y2="399.0" stroke="#5aaee6" stroke-width="1"/>
<line x1="682.8" y1="402.6" x2="780.8" y2="402.6" stroke="#5aaee6" stroke-width="1.3"/>
<line x1="682.8" y1="405.0" x2="780.8" y2="405.0" stroke="#3aa6f2" stroke-width="1.4"/>
<line x1="791.8" y1="403.0" x2="972.8" y2="403.0" stroke="#5aaee6" stroke-width="1.6"/>
<line x1="791.8" y1="405.2" x2="972.8" y2="405.2" stroke="#3aa6f2" stroke-width="1.6"/>
<line x1="987.0" y1="399.0" x2="1045.1" y2="399.0" stroke="#5aaee6" stroke-width="0.9" stroke-dasharray="32.2 6 1 6" stroke-dashoffset="3"/>
<line x1="761.3" y1="395.5" x2="761.3" y2="575.0" stroke="#b9d6ea" stroke-width="0.9"/>
<path d="M757.5 402.8L761.3 394.9L765.1 402.8" fill="none" stroke="#b9d6ea" stroke-width="0.9"/>
<path d="M781 567.7V391.8H791.6V402" fill="none" stroke="#e4f1fb" stroke-width="1"/>
<path d="M786.7 567.7V395.4H788.4V402" fill="none" stroke="#e4f1fb" stroke-width="1"/>
<line x1="783.7" y1="395.4" x2="783.7" y2="563.8" stroke="#5aaee6" stroke-width="1"/>
<line x1="735.5" y1="395.9" x2="780.8" y2="395.9" stroke="#5aaee6" stroke-width="1.1"/>
<line x1="735.5" y1="411.3" x2="780.8" y2="411.3" stroke="#5aaee6" stroke-width="1.2"/>
<line x1="735.5" y1="426.4" x2="780.8" y2="426.4" stroke="#5aaee6" stroke-width="1.2"/>
<line x1="735.5" y1="441.4" x2="780.8" y2="441.4" stroke="#5aaee6" stroke-width="1.2"/>
<line x1="735.5" y1="456.5" x2="780.8" y2="456.5" stroke="#5aaee6" stroke-width="1.2"/>
<line x1="735.5" y1="471.5" x2="780.8" y2="471.5" stroke="#5aaee6" stroke-width="1.2"/>
<line x1="735.5" y1="486.6" x2="780.8" y2="486.6" stroke="#5aaee6" stroke-width="1.2"/>
<line x1="735.5" y1="501.6" x2="780.8" y2="501.6" stroke="#5aaee6" stroke-width="1.2"/>
<line x1="735.5" y1="516.6" x2="780.8" y2="516.6" stroke="#5aaee6" stroke-width="1.2"/>
<line x1="735.5" y1="531.7" x2="780.8" y2="531.7" stroke="#5aaee6" stroke-width="1.2"/>
<line x1="735.5" y1="546.8" x2="780.8" y2="546.8" stroke="#5aaee6" stroke-width="1.2"/>
<line x1="735.5" y1="561.8" x2="780.8" y2="561.8" stroke="#5aaee6" stroke-width="1.2"/>
<text class="s" transform="translate(753.5,393.3) scale(0.92,1)" font-size="8" fill="#e4f1fb" text-anchor="start" opacity="0.9">15</text>
<text class="s" transform="translate(753.7,410.1) scale(0.92,1)" font-size="8" fill="#e4f1fb" text-anchor="start" opacity="0.9">14</text>
<text class="s" transform="translate(753.7,425.2) scale(0.92,1)" font-size="8" fill="#e4f1fb" text-anchor="start" opacity="0.9">13</text>
<text class="s" transform="translate(753.7,440.2) scale(0.92,1)" font-size="8" fill="#e4f1fb" text-anchor="start" opacity="0.9">12</text>
<text class="s" transform="translate(753.7,455.3) scale(0.92,1)" font-size="8" fill="#e4f1fb" text-anchor="start" opacity="0.9">11</text>
<text class="s" transform="translate(753.7,470.3) scale(0.92,1)" font-size="8" fill="#e4f1fb" text-anchor="start" opacity="0.9">10</text>
<text class="s" transform="translate(757.3,485.4) scale(0.92,1)" font-size="8" fill="#e4f1fb" text-anchor="start" opacity="0.9">9</text>
<text class="s" transform="translate(757.3,500.4) scale(0.92,1)" font-size="8" fill="#e4f1fb" text-anchor="start" opacity="0.9">8</text>
<text class="s" transform="translate(757.3,515.4) scale(0.92,1)" font-size="8" fill="#e4f1fb" text-anchor="start" opacity="0.9">7</text>
<text class="s" transform="translate(757.3,530.5) scale(0.92,1)" font-size="8" fill="#e4f1fb" text-anchor="start" opacity="0.9">6</text>
<text class="s" transform="translate(757.3,545.5) scale(0.92,1)" font-size="8" fill="#e4f1fb" text-anchor="start" opacity="0.9">5</text>
<text class="s" transform="translate(757.3,560.6) scale(0.92,1)" font-size="8" fill="#e4f1fb" text-anchor="start" opacity="0.9">4</text>
<line x1="737.2" y1="449.7" x2="786.7" y2="471.3" stroke="#b9d6ea" stroke-width="0.9"/>
<line x1="737.2" y1="452.7" x2="786.7" y2="474.3" stroke="#b9d6ea" stroke-width="0.9"/>
<text class="s" transform="translate(756.7,503.4) rotate(-90) scale(0.77,1)" font-size="9.9" fill="#e4f1fb" text-anchor="middle">387</text>
<text class="s" transform="translate(779.2,492.2) rotate(-90) scale(0.85,1)" font-size="6.5" fill="#e4f1fb" text-anchor="middle">metal merdiven</text>
<text class="s" transform="translate(786.2,524.0) rotate(-90) scale(0.85,1)" font-size="6.5" fill="#e4f1fb" text-anchor="middle">metal merdiven</text>
<text class="s" transform="translate(798.7,533.5) rotate(-90)" font-size="7.4" fill="#e4f1fb" textLength="45.5" lengthAdjust="spacingAndGlyphs" text-anchor="start" opacity="0.9">al.korkuluk h:90cm</text>
<line x1="784.0" y1="488.0" x2="792.3" y2="495.0" stroke="#b9d6ea" stroke-width="0.8"/>
<text class="s" transform="translate(745.3,530.0) rotate(-90) scale(0.8,1)" font-size="7.4" fill="#e4f1fb" text-anchor="middle">M.15(18 / 27)</text>
<rect x="780.8" y="563.8" width="8.9" height="3.9" rx="0" fill="none" stroke="#e4f1fb" stroke-width="1"/>
<line x1="780.8" y1="567.7" x2="735.5" y2="592.0" stroke="#5aaee6" stroke-width="1"/>
<line x1="780.8" y1="567.7" x2="758.5" y2="611.3" stroke="#5aaee6" stroke-width="1"/>
<line x1="758.5" y1="575.4" x2="768.7" y2="584.4" stroke="#5aaee6" stroke-width="1"/>
<line x1="771.3" y1="586.4" x2="786.7" y2="586.4" stroke="#5aaee6" stroke-width="1"/>
<line x1="786.7" y1="567.7" x2="786.7" y2="611.3" stroke="#5aaee6" stroke-width="1"/>
<text class="s" transform="translate(756.0,575.0) scale(0.92,1)" font-size="8" fill="#e4f1fb" text-anchor="start">3</text>
<text class="s" transform="translate(765.6,588.0) scale(0.92,1)" font-size="8" fill="#e4f1fb" text-anchor="start">2</text>
<text class="s" transform="translate(783.3,596.0) scale(0.92,1)" font-size="8" fill="#e4f1fb" text-anchor="start">1</text>
<text class="s" transform="translate(725.2,431.6) scale(0.77,1)" font-size="9.9" fill="#e4f1fb" text-anchor="start">25</text>
<text class="s" transform="translate(847.7,431.6) scale(0.77,1)" font-size="9.9" fill="#e4f1fb" text-anchor="start">425</text>
<text class="s" transform="translate(976.0,431.6) scale(0.77,1)" font-size="9.9" fill="#e4f1fb" text-anchor="start">25</text>
<text class="s" transform="translate(1017.4,431.6) scale(0.77,1)" font-size="9.9" fill="#e4f1fb" text-anchor="start">130</text>
<text class="s" transform="translate(660.9,463.0) scale(0.793,1)" font-size="13.7" fill="#e4f1fb" text-anchor="start">SAÇAK</text>
<text class="s" transform="translate(825.6,467.0) scale(1.01,1)" font-size="13.6" fill="#e4f1fb" text-anchor="start">SALON+MUTFAK</text>
<text class="s" transform="translate(875.6,482.3) scale(0.998,1)" font-size="10.9" fill="#e4f1fb" text-anchor="start">Al.: 28.30 m2</text>
<text class="s" transform="translate(866.8,476.0) rotate(-90) scale(0.77,1)" font-size="9.9" fill="#e4f1fb" text-anchor="middle">487</text>
<text class="s" transform="translate(950.6,402.8) rotate(-90) scale(0.77,1)" font-size="9.9" fill="#e4f1fb" text-anchor="middle">750</text>
<path d="M1019 185.4L1023.6 179.4L1027.4 185.4Z" fill="none" stroke="#b9d6ea" stroke-width="0.9"/>
<line x1="987.0" y1="179.4" x2="1045.1" y2="179.4" stroke="#3aa6f2" stroke-width="1.5"/>
<line x1="987.0" y1="182.8" x2="1045.1" y2="182.8" stroke="#b9d6ea" stroke-width="0.9"/>
<line x1="990.3" y1="179.3" x2="990.3" y2="447.7" stroke="#5aaee6" stroke-width="1"/>
<line x1="992.6" y1="179.3" x2="992.6" y2="447.7" stroke="#3aa6f2" stroke-width="1.3"/>
<line x1="987.0" y1="195.6" x2="1045.1" y2="195.6" stroke="#a9d4f3" stroke-width="1.2" stroke-dasharray="3 2.2"/>
<line x1="992.6" y1="198.4" x2="1045.1" y2="198.4" stroke="#84c4f0" stroke-width="1.1"/>
<line x1="987.0" y1="212.5" x2="1045.1" y2="212.5" stroke="#a9d4f3" stroke-width="1.2" stroke-dasharray="3 2.2"/>
<line x1="992.6" y1="215.3" x2="1045.1" y2="215.3" stroke="#84c4f0" stroke-width="1.1"/>
<line x1="987.0" y1="229.4" x2="1045.1" y2="229.4" stroke="#a9d4f3" stroke-width="1.2" stroke-dasharray="3 2.2"/>
<line x1="992.6" y1="232.2" x2="1045.1" y2="232.2" stroke="#84c4f0" stroke-width="1.1"/>
<line x1="987.0" y1="246.3" x2="1045.1" y2="246.3" stroke="#a9d4f3" stroke-width="1.2" stroke-dasharray="3 2.2"/>
<line x1="992.6" y1="249.1" x2="1045.1" y2="249.1" stroke="#84c4f0" stroke-width="1.1"/>
<line x1="987.0" y1="263.2" x2="1045.1" y2="263.2" stroke="#a9d4f3" stroke-width="1.2" stroke-dasharray="3 2.2"/>
<line x1="992.6" y1="266.0" x2="1045.1" y2="266.0" stroke="#84c4f0" stroke-width="1.1"/>
<line x1="987.0" y1="280.1" x2="1045.1" y2="280.1" stroke="#a9d4f3" stroke-width="1.2" stroke-dasharray="3 2.2"/>
<line x1="992.6" y1="282.9" x2="1045.1" y2="282.9" stroke="#84c4f0" stroke-width="1.1"/>
<line x1="987.0" y1="334.2" x2="1045.1" y2="334.2" stroke="#a9d4f3" stroke-width="1.2" stroke-dasharray="3 2.2"/>
<line x1="992.6" y1="337.2" x2="1045.1" y2="337.2" stroke="#84c4f0" stroke-width="1.1"/>
<line x1="987.0" y1="351.2" x2="1045.1" y2="351.2" stroke="#a9d4f3" stroke-width="1.2" stroke-dasharray="3 2.2"/>
<line x1="992.6" y1="354.2" x2="1045.1" y2="354.2" stroke="#84c4f0" stroke-width="1.1"/>
<line x1="987.0" y1="368.2" x2="1045.1" y2="368.2" stroke="#a9d4f3" stroke-width="1.2" stroke-dasharray="3 2.2"/>
<line x1="992.6" y1="371.2" x2="1045.1" y2="371.2" stroke="#84c4f0" stroke-width="1.1"/>
<line x1="987.0" y1="385.2" x2="1045.1" y2="385.2" stroke="#a9d4f3" stroke-width="1.2" stroke-dasharray="3 2.2"/>
<line x1="992.6" y1="388.2" x2="1045.1" y2="388.2" stroke="#84c4f0" stroke-width="1.1"/>
<line x1="987.0" y1="402.2" x2="1045.1" y2="402.2" stroke="#a9d4f3" stroke-width="1.2" stroke-dasharray="3 2.2"/>
<line x1="992.6" y1="405.2" x2="1045.1" y2="405.2" stroke="#84c4f0" stroke-width="1.1"/>
<line x1="987.0" y1="419.2" x2="1045.1" y2="419.2" stroke="#a9d4f3" stroke-width="1.2" stroke-dasharray="3 2.2"/>
<line x1="992.6" y1="422.2" x2="1045.1" y2="422.2" stroke="#84c4f0" stroke-width="1.1"/>
<line x1="987.0" y1="436.2" x2="1045.1" y2="436.2" stroke="#a9d4f3" stroke-width="1.2" stroke-dasharray="3 2.2"/>
<line x1="992.6" y1="439.2" x2="1045.1" y2="439.2" stroke="#84c4f0" stroke-width="1.1"/>
<text class="s" transform="translate(1031.3,175.1) scale(0.9,1)" font-size="8" fill="#e4f1fb" text-anchor="start" opacity="0.92">16</text>
<text class="s" transform="translate(1031.3,192.4) scale(0.9,1)" font-size="8" fill="#e4f1fb" text-anchor="start" opacity="0.92">15</text>
<text class="s" transform="translate(1031.3,209.5) scale(0.9,1)" font-size="8" fill="#e4f1fb" text-anchor="start" opacity="0.92">14</text>
<text class="s" transform="translate(1031.3,225.9) scale(0.9,1)" font-size="8" fill="#e4f1fb" text-anchor="start" opacity="0.92">13</text>
<text class="s" transform="translate(1031.3,242.8) scale(0.9,1)" font-size="8" fill="#e4f1fb" text-anchor="start" opacity="0.92">12</text>
<text class="s" transform="translate(1031.3,259.7) scale(0.9,1)" font-size="8" fill="#e4f1fb" text-anchor="start" opacity="0.92">11</text>
<text class="s" transform="translate(1031.3,276.4) scale(0.9,1)" font-size="8" fill="#e4f1fb" text-anchor="start" opacity="0.92">10</text>
<text class="s" transform="translate(1033.6,332.0) scale(0.9,1)" font-size="8" fill="#e4f1fb" text-anchor="start" opacity="0.92">9</text>
<text class="s" transform="translate(1033.6,349.6) scale(0.9,1)" font-size="8" fill="#e4f1fb" text-anchor="start" opacity="0.92">8</text>
<text class="s" transform="translate(1033.6,365.6) scale(0.9,1)" font-size="8" fill="#e4f1fb" text-anchor="start" opacity="0.92">7</text>
<text class="s" transform="translate(1033.6,383.0) scale(0.9,1)" font-size="8" fill="#e4f1fb" text-anchor="start" opacity="0.92">6</text>
<text class="s" transform="translate(1033.6,397.7) scale(0.9,1)" font-size="8" fill="#e4f1fb" text-anchor="start" opacity="0.92">5</text>
<text class="s" transform="translate(1033.6,412.6) scale(0.9,1)" font-size="8" fill="#e4f1fb" text-anchor="start" opacity="0.92">4</text>
<text class="s" transform="translate(1033.6,431.0) scale(0.9,1)" font-size="8" fill="#e4f1fb" text-anchor="start" opacity="0.92">3</text>
<text class="s" transform="translate(1033.6,445.6) scale(0.9,1)" font-size="8" fill="#e4f1fb" text-anchor="start" opacity="0.92">2</text>
<text class="s" transform="translate(1004.5,272.0) rotate(-90) scale(0.82,1)" font-size="8.3" fill="#e4f1fb" text-anchor="middle">M.16(18/30)</text>
<line x1="987.0" y1="447.7" x2="1045.1" y2="447.7" stroke="#e4f1fb" stroke-width="1.2"/>
<path d="M972.8 461H1016.7V611.3" fill="none" stroke="#e4f1fb" stroke-width="1.2"/>
<path d="M1046 461H1030.3V611.3" fill="none" stroke="#e4f1fb" stroke-width="1.2"/>
<text class="s" transform="translate(725.2,557.0) scale(0.77,1)" font-size="9.9" fill="#e4f1fb" text-anchor="start">25</text>
<text class="s" transform="translate(756.4,557.0) scale(0.77,1)" font-size="9.9" fill="#e4f1fb" text-anchor="start">90</text>
<text class="s" transform="translate(895.0,557.0) scale(0.77,1)" font-size="9.9" fill="#e4f1fb" text-anchor="start">413</text>
<text class="s" transform="translate(1019.0,557.0) scale(0.77,1)" font-size="9.9" fill="#e4f1fb" text-anchor="start">25,</text>
<text class="s" transform="translate(725.2,575.0) scale(0.77,1)" font-size="9.9" fill="#e4f1fb" text-anchor="start">25</text>
<text class="s" transform="translate(870.0,575.0) scale(0.77,1)" font-size="9.9" fill="#e4f1fb" text-anchor="start">503</text>
<text class="s" transform="translate(1019.0,575.0) scale(0.77,1)" font-size="9.9" fill="#e4f1fb" text-anchor="start">25,</text>
<text class="s" transform="translate(682.8,596.0) scale(0.77,1)" font-size="9.9" fill="#e4f1fb" text-anchor="start">10</text>
<text class="s" transform="translate(725.2,596.0) scale(0.77,1)" font-size="9.9" fill="#e4f1fb" text-anchor="start">25</text>
<text class="s" transform="translate(757.2,596.0) scale(0.77,1)" font-size="9.9" fill="#e4f1fb" text-anchor="start">90</text>
<text class="s" transform="translate(797.4,596.0) scale(0.77,1)" font-size="9.9" fill="#e4f1fb" text-anchor="start">54</text>
<text class="s" transform="translate(875.0,596.0) scale(0.77,1)" font-size="9.9" fill="#e4f1fb" text-anchor="start">235</text>
<text class="s" transform="translate(976.0,596.0) scale(0.77,1)" font-size="9.9" fill="#e4f1fb" text-anchor="start">124</text>
<text class="s" transform="translate(1019.0,596.0) scale(0.77,1)" font-size="9.9" fill="#e4f1fb" text-anchor="start">25,</text>
<line x1="816.0" y1="593.0" x2="816.0" y2="611.0" stroke="#b9d6ea" stroke-width="0.9"/>
<line x1="947.0" y1="593.0" x2="947.0" y2="611.0" stroke="#b9d6ea" stroke-width="0.9"/>
<clipPath id="h762"><rect x="722.5" y="592.0" width="13.0" height="34.0"/></clipPath>
<g clip-path="url(#h762)">
<path d="M688.5 626.0L722.5 592.0M692.5 626.0L726.5 592.0M696.5 626.0L730.5 592.0M700.5 626.0L734.5 592.0M704.5 626.0L738.5 592.0M708.5 626.0L742.5 592.0M712.5 626.0L746.5 592.0M716.5 626.0L750.5 592.0M720.5 626.0L754.5 592.0M724.5 626.0L758.5 592.0M728.5 626.0L762.5 592.0M732.5 626.0L766.5 592.0M736.5 626.0L770.5 592.0M740.5 626.0L774.5 592.0M744.5 626.0L778.5 592.0M748.5 626.0L782.5 592.0M752.5 626.0L786.5 592.0M756.5 626.0L790.5 592.0M760.5 626.0L794.5 592.0M764.5 626.0L798.5 592.0M768.5 626.0L802.5 592.0" stroke="#5cb4f2" stroke-width="1.15" fill="none"/>
</g>
<rect x="722.5" y="592.0" width="13.0" height="34.0" rx="0" fill="none" stroke="#e4f1fb" stroke-width="1"/>
<rect x="735.5" y="611.3" width="81.2" height="14.7" rx="0" fill="none" stroke="#e4f1fb" stroke-width="1.2"/>
<line x1="682.8" y1="620.4" x2="1045.1" y2="620.4" stroke="#5aaee6" stroke-width="0.9" stroke-dasharray="32.2 6 1 6" stroke-dashoffset="30"/>
<line x1="682.8" y1="612.3" x2="710.6" y2="612.3" stroke="#e4f1fb" stroke-width="2.6"/>
<line x1="682.8" y1="626.0" x2="722.5" y2="626.0" stroke="#3aa6f2" stroke-width="1.3"/>
<path d="M706 617.5H709V614" fill="none" stroke="#b9d6ea" stroke-width="0.8"/>
<line x1="818.7" y1="612.6" x2="947.0" y2="612.6" stroke="#e4f1fb" stroke-width="1"/>
<line x1="818.7" y1="614.6" x2="947.0" y2="614.6" stroke="#3aa6f2" stroke-width="1.4"/>
<line x1="816.7" y1="626.0" x2="947.0" y2="626.0" stroke="#3aa6f2" stroke-width="1.3"/>
<line x1="818.7" y1="609.5" x2="818.7" y2="615.0" stroke="#e4f1fb" stroke-width="0.9"/>
<line x1="818.7" y1="609.5" x2="824.0" y2="609.5" stroke="#e4f1fb" stroke-width="0.8"/>
<rect x="947.0" y="611.3" width="6.3" height="14.7" rx="0" fill="none" stroke="#e4f1fb" stroke-width="1"/>
<clipPath id="h778"><rect x="953.3" y="611.3" width="33.7" height="14.7"/></clipPath>
<g clip-path="url(#h778)">
<path d="M938.6 611.3L953.3 626.0M941.8 611.3L956.5 626.0M945.0 611.3L959.7 626.0M948.2 611.3L962.9 626.0M951.4 611.3L966.1 626.0M954.6 611.3L969.3 626.0M957.8 611.3L972.5 626.0M961.0 611.3L975.7 626.0M964.2 611.3L978.9 626.0M967.4 611.3L982.1 626.0M970.6 611.3L985.3 626.0M973.8 611.3L988.5 626.0M977.0 611.3L991.7 626.0M980.2 611.3L994.9 626.0M983.4 611.3L998.1 626.0M986.6 611.3L1001.3 626.0M989.8 611.3L1004.5 626.0M993.0 611.3L1007.7 626.0M996.2 611.3L1010.9 626.0M999.4 611.3L1014.1 626.0" stroke="#6cbcf5" stroke-width="1.2" fill="none"/>
</g>
<rect x="953.3" y="611.3" width="33.7" height="14.7" rx="0" fill="none" stroke="#e4f1fb" stroke-width="1"/>
<path d="M987 611.3H1016.7" fill="none" stroke="#e4f1fb" stroke-width="1.2"/>
<path d="M1030.3 611.3H1046" fill="none" stroke="#e4f1fb" stroke-width="1.2"/>
<line x1="987.0" y1="626.0" x2="1045.1" y2="626.0" stroke="#e4f1fb" stroke-width="1.2"/>
<text class="s" transform="translate(759.0,619.0) rotate(-90) scale(0.77,1)" font-size="9.9" fill="#e4f1fb" text-anchor="middle">25</text>
<text class="s" transform="translate(866.4,619.0) rotate(-90) scale(0.77,1)" font-size="9.9" fill="#e4f1fb" text-anchor="middle">25</text>
<text class="s" transform="translate(946.3,619.0) rotate(-90) scale(0.8,1)" font-size="7.5" fill="#e4f1fb" text-anchor="middle">25</text>
<path d="M722 626V709.4H735.6V626" fill="none" stroke="#e4f1fb" stroke-width="1.2"/>
<path d="M973.4 626V709.4H987V626" fill="none" stroke="#e4f1fb" stroke-width="1.2"/>
<path d="M721.8 709.4V764.5H973.8V709.4" fill="none" stroke="#5aaee6" stroke-width="1.3"/>
<line x1="780.0" y1="665.6" x2="828.5" y2="665.6" stroke="#3aa6f2" stroke-width="1.5"/>
<line x1="792.3" y1="653.6" x2="792.3" y2="678.0" stroke="#3aa6f2" stroke-width="1.5"/>
<circle cx="792.3" cy="665.6" r="5.6" fill="none" stroke="#e4f1fb" stroke-width="0.9"/>
<path d="M792.3 665.6L792.3 660.0A5.6 5.6 0 0 1 797.9 665.6Z M792.3 665.6L792.3 671.2A5.6 5.6 0 0 1 786.7 665.6Z" fill="#ffffff"/>
<text class="r" transform="translate(799.5,661.3) scale(1.0,1)" font-size="12" fill="#e4f1fb" text-anchor="start">+3,32</text>
<line x1="1008.5" y1="662.2" x2="1046.0" y2="662.2" stroke="#3aa6f2" stroke-width="1.5"/>
<line x1="1020.6" y1="649.7" x2="1020.6" y2="674.0" stroke="#3aa6f2" stroke-width="1.5"/>
<circle cx="1020.6" cy="662.2" r="5.6" fill="none" stroke="#e4f1fb" stroke-width="0.9"/>
<path d="M1020.6 662.2L1020.6 656.6A5.6 5.6 0 0 1 1026.2 662.2Z M1020.6 662.2L1020.6 667.8A5.6 5.6 0 0 1 1015.0 662.2Z" fill="#ffffff"/>
<text class="s" transform="translate(1027.7,657.9) scale(1.0,1)" font-size="10.4" fill="#e4f1fb" text-anchor="start">+2.65</text>
<line x1="885.4" y1="702.3" x2="934.0" y2="702.3" stroke="#3aa6f2" stroke-width="1.5"/>
<line x1="897.7" y1="690.8" x2="897.7" y2="714.8" stroke="#3aa6f2" stroke-width="1.5"/>
<circle cx="897.7" cy="702.3" r="5.6" fill="none" stroke="#e4f1fb" stroke-width="0.9"/>
<path d="M897.7 702.3L897.7 696.7A5.6 5.6 0 0 1 903.3 702.3Z M897.7 702.3L897.7 707.9A5.6 5.6 0 0 1 892.1 702.3Z" fill="#ffffff"/>
<text class="r" transform="translate(904.0,698.5) scale(1.0,1)" font-size="12" fill="#e4f1fb" text-anchor="start">−4,27</text>
<line x1="826.0" y1="752.0" x2="874.3" y2="752.0" stroke="#3aa6f2" stroke-width="1.5"/>
<line x1="837.5" y1="740.4" x2="837.5" y2="764.0" stroke="#3aa6f2" stroke-width="1.5"/>
<circle cx="837.5" cy="752.0" r="5.6" fill="none" stroke="#e4f1fb" stroke-width="0.9"/>
<path d="M837.5 752.0L837.5 746.4A5.6 5.6 0 0 1 843.1 752.0Z M837.5 752.0L837.5 757.6A5.6 5.6 0 0 1 831.9 752.0Z" fill="#ffffff"/>
<text class="r" transform="translate(845.2,746.8) scale(1.0,1)" font-size="11.8" fill="#e4f1fb" text-anchor="start">+0.10</text>
<text class="s" transform="translate(867.2,661.3) rotate(-90) scale(0.77,1)" font-size="9.9" fill="#e4f1fb" text-anchor="middle">125</text>
<text class="s" transform="translate(950.6,668.0) rotate(-90) scale(0.77,1)" font-size="9.9" fill="#e4f1fb" text-anchor="middle">150</text>
<text class="s" transform="translate(866.4,702.3) rotate(-90) scale(0.77,1)" font-size="9.9" fill="#e4f1fb" text-anchor="middle">25</text>
<circle cx="882.0" cy="658.2" r="6.4" fill="none" stroke="#e4f1fb" stroke-width="0.9"/>
<text class="s" transform="translate(884.0,658.2) rotate(-90) scale(0.85,1)" font-size="5" fill="#e4f1fb" text-anchor="middle">SKG</text>
<line x1="882.0" y1="612.6" x2="882.0" y2="651.8" stroke="#b9d6ea" stroke-width="0.9"/>
<text class="s" transform="translate(881.9,640.8) rotate(-90) scale(0.8,1)" font-size="8.5" fill="#e4f1fb" text-anchor="middle">235</text>
<text class="s" transform="translate(888.7,640.8) rotate(-90) scale(0.8,1)" font-size="8.5" fill="#e4f1fb" text-anchor="middle">245</text>
<text class="s" transform="translate(890.5,656.2) scale(0.995,1)" font-size="13.5" fill="#e4f1fb" text-anchor="start">BALKON</text>
<text class="s" transform="translate(881.5,675.4) scale(0.989,1)" font-size="10.9" fill="#e4f1fb" text-anchor="start">Al.: 6.37 m2</text>
<line x1="683.8" y1="655.8" x2="683.8" y2="665.0" stroke="#e4f1fb" stroke-width="1.8"/>
<line x1="683.8" y1="672.5" x2="683.8" y2="673.7" stroke="#e4f1fb" stroke-width="1.4"/>
<line x1="683.8" y1="677.5" x2="683.8" y2="678.7" stroke="#e4f1fb" stroke-width="1.4"/>
<text class="s" transform="translate(715.6,690.2) scale(0.77,1)" font-size="9.9" fill="#e4f1fb" text-anchor="start">10</text>
<text class="s" transform="translate(724.8,690.2) scale(0.77,1)" font-size="9.9" fill="#e4f1fb" text-anchor="start">25</text>
<text class="s" transform="translate(736.8,690.2) scale(0.77,1)" font-size="9.9" fill="#e4f1fb" text-anchor="start">10</text>
<text class="s" transform="translate(850.8,690.2) scale(0.77,1)" font-size="9.9" fill="#e4f1fb" text-anchor="start">415</text>
<text class="s" transform="translate(976.0,690.2) scale(0.77,1)" font-size="9.9" fill="#e4f1fb" text-anchor="start">25</text>
<text class="s" transform="translate(1017.4,690.2) scale(0.77,1)" font-size="9.9" fill="#e4f1fb" text-anchor="start">130</text>
<text class="s" x="755.1" y="695.1" font-size="7.4" fill="#e4f1fb" textLength="45" lengthAdjust="spacingAndGlyphs" opacity="0.9">al.korkuluk h:90cm</text>
<line x1="785.4" y1="696.0" x2="794.4" y2="705.0" stroke="#b9d6ea" stroke-width="0.8"/>
</g>
</svg>
</body></html>
